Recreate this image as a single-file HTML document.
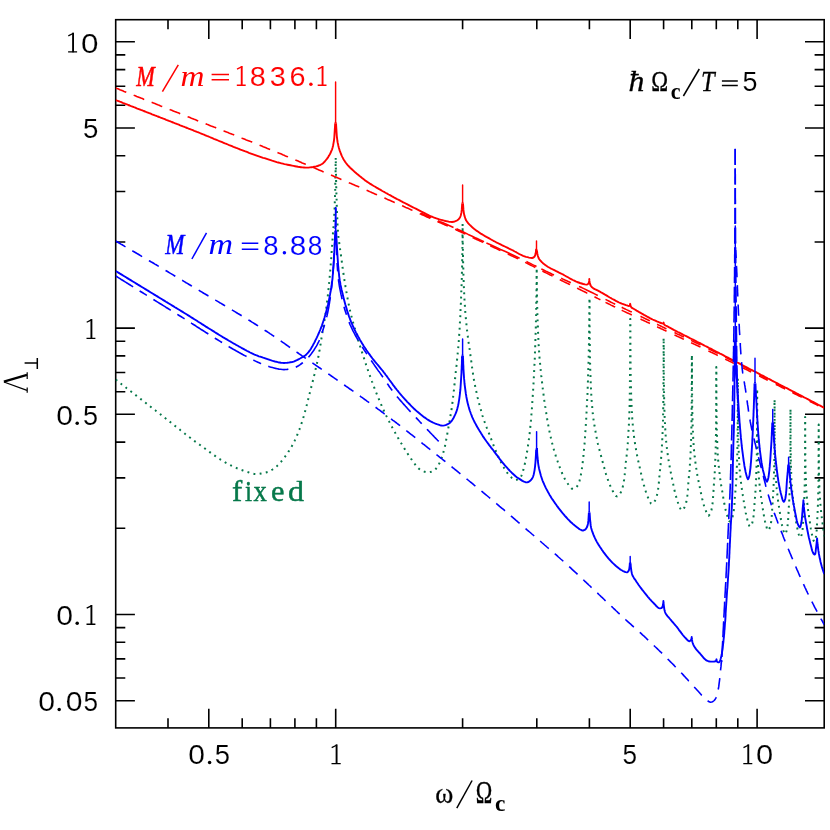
<!DOCTYPE html>
<html><head><meta charset="utf-8"><title>plot</title>
<style>html,body{margin:0;padding:0;background:#fff;}body{width:830px;height:830px;position:relative;overflow:hidden;font-family:"Liberation Serif",serif;}</style></head>
<body>
<svg width="830" height="830" viewBox="0 0 830 830" style="position:absolute;left:0;top:0;will-change:transform">
<defs><clipPath id="cp"><rect x="115.7" y="19.7" width="708.5" height="708.1999999999999"/></clipPath></defs>
<rect width="830" height="830" fill="#fff"/>
<g stroke="#000" stroke-width="1.6" fill="none" stroke-linecap="butt">
<rect x="115.7" y="19.7" width="708.5" height="708.2"/>
<path d="M168.0 727.9 v-9.6 M168.0 19.7 v9.6 M208.8 727.9 v-19.2 M208.8 19.7 v19.2 M242.2 727.9 v-9.6 M242.2 19.7 v9.6 M270.4 727.9 v-9.6 M270.4 19.7 v9.6 M294.9 727.9 v-9.6 M294.9 19.7 v9.6 M316.4 727.9 v-9.6 M316.4 19.7 v9.6 M335.7 727.9 v-19.2 M335.7 19.7 v19.2 M462.6 727.9 v-9.6 M462.6 19.7 v9.6 M536.8 727.9 v-9.6 M536.8 19.7 v9.6 M589.4 727.9 v-9.6 M589.4 19.7 v9.6 M630.2 727.9 v-19.2 M630.2 19.7 v19.2 M663.6 727.9 v-9.6 M663.6 19.7 v9.6 M691.8 727.9 v-9.6 M691.8 19.7 v9.6 M716.3 727.9 v-9.6 M716.3 19.7 v9.6 M737.8 727.9 v-9.6 M737.8 19.7 v9.6 M757.1 727.9 v-19.2 M757.1 19.7 v19.2 M115.7 700.7 h19.2 M824.2 700.7 h-19.2 M115.7 678.0 h9.6 M824.2 678.0 h-9.6 M115.7 658.9 h9.6 M824.2 658.9 h-9.6 M115.7 642.3 h9.6 M824.2 642.3 h-9.6 M115.7 627.6 h9.6 M824.2 627.6 h-9.6 M115.7 614.5 h19.2 M824.2 614.5 h-19.2 M115.7 528.3 h9.6 M824.2 528.3 h-9.6 M115.7 477.9 h9.6 M824.2 477.9 h-9.6 M115.7 442.1 h9.6 M824.2 442.1 h-9.6 M115.7 414.3 h19.2 M824.2 414.3 h-19.2 M115.7 391.7 h9.6 M824.2 391.7 h-9.6 M115.7 372.5 h9.6 M824.2 372.5 h-9.6 M115.7 355.9 h9.6 M824.2 355.9 h-9.6 M115.7 341.3 h9.6 M824.2 341.3 h-9.6 M115.7 328.1 h19.2 M824.2 328.1 h-19.2 M115.7 242.0 h9.6 M824.2 242.0 h-9.6 M115.7 191.5 h9.6 M824.2 191.5 h-9.6 M115.7 155.8 h9.6 M824.2 155.8 h-9.6 M115.7 128.0 h19.2 M824.2 128.0 h-19.2 M115.7 105.3 h9.6 M824.2 105.3 h-9.6 M115.7 86.2 h9.6 M824.2 86.2 h-9.6 M115.7 69.6 h9.6 M824.2 69.6 h-9.6 M115.7 54.9 h9.6 M824.2 54.9 h-9.6 M115.7 41.8 h19.2 M824.2 41.8 h-19.2 "/>
</g>
<g clip-path="url(#cp)" fill="none" stroke-linejoin="round">
<path d="M115.7 379.6 L116.9 380.5 L118.1 381.5 L119.3 382.4 L120.5 383.3 L121.7 384.3 L122.9 385.2 L124.1 386.1 L125.3 387.0 L126.5 388.0 L127.7 388.9 L128.9 389.8 L130.1 390.8 L131.3 391.7 L132.5 392.6 L133.7 393.6 L134.9 394.5 L136.0 395.4 L137.2 396.3 L138.4 397.3 L139.6 398.2 L140.8 399.1 L142.0 400.1 L143.2 401.0 L144.4 401.9 L145.6 402.8 L146.8 403.8 L148.0 404.7 L149.2 405.6 L150.4 406.6 L151.6 407.5 L152.8 408.4 L154.0 409.4 L155.2 410.3 L156.4 411.2 L157.6 412.1 L158.8 413.1 L160.0 414.0 L161.2 414.9 L162.4 415.9 L163.6 416.8 L164.8 417.8 L166.0 418.7 L167.2 419.7 L168.4 420.6 L169.6 421.6 L170.8 422.5 L172.0 423.5 L173.3 424.5 L174.5 425.4 L175.7 426.4 L176.9 427.3 L178.1 428.3 L179.3 429.2 L180.5 430.2 L181.7 431.1 L182.9 432.1 L184.1 433.0 L185.3 434.0 L186.5 434.9 L187.7 435.8 L188.9 436.8 L190.2 437.7 L191.4 438.6 L192.6 439.6 L193.8 440.5 L195.0 441.4 L196.3 442.3 L197.5 443.2 L198.8 444.1 L200.0 445.0 L201.2 445.9 L202.4 446.8 L203.7 447.6 L204.9 448.5 L206.1 449.4 L207.3 450.3 L208.5 451.2 L209.8 452.1 L211.0 453.0 L212.2 453.9 L213.4 454.8 L214.7 455.6 L215.9 456.5 L217.2 457.4 L218.4 458.2 L219.7 459.0 L220.9 459.8 L222.2 460.6 L223.5 461.4 L224.8 462.2 L226.1 462.9 L227.4 463.6 L228.7 464.3 L230.0 465.0 L231.4 465.7 L232.8 466.4 L234.2 467.0 L235.7 467.6 L237.1 468.3 L238.6 468.9 L240.1 469.4 L241.5 470.0 L243.0 470.5 L244.5 471.0 L246.0 471.5 L247.6 472.0 L249.3 472.6 L251.0 473.1 L252.6 473.6 L254.3 473.9 L256.0 474.0 L257.7 473.9 L259.4 473.8 L261.1 473.5 L262.7 473.2 L264.4 472.9 L266.0 472.5 L267.7 472.0 L269.3 471.3 L271.0 470.4 L272.5 469.5 L274.0 468.5 L275.2 467.6 L276.5 466.6 L277.6 465.4 L278.8 464.3 L279.9 463.1 L281.0 461.8 L282.0 460.5 L283.0 459.3 L284.0 458.0 L284.9 456.8 L285.9 455.5 L286.8 454.2 L287.7 452.9 L288.5 451.6 L289.4 450.3 L290.2 448.9 L291.0 447.5 L291.8 446.2 L292.6 444.8 L293.3 443.4 L294.0 442.0 L294.7 440.6 L295.3 439.2 L296.0 437.9 L296.6 436.4 L297.2 435.0 L297.8 433.6 L298.3 432.2 L298.9 430.7 L299.5 429.3 L300.0 427.8 L300.5 426.4 L301.0 424.9 L301.5 423.5 L302.0 422.0 L302.5 420.6 L302.9 419.1 L303.3 417.7 L303.8 416.2 L304.2 414.7 L304.6 413.3 L305.0 411.8 L305.4 410.3 L305.7 408.8 L306.1 407.4 L306.5 405.9 L306.9 404.4 L307.2 402.9 L307.6 401.5 L308.0 400.0 L308.4 398.5 L308.8 397.0 L309.2 395.5 L309.5 394.0 L309.9 392.5 L310.3 391.0 L310.7 389.5 L311.1 388.0 L311.4 386.5 L311.8 385.0 L312.2 383.5 L312.6 382.0 L312.9 380.5 L313.3 379.0 L313.6 377.5 L314.0 376.0 L314.4 374.5 L314.7 372.9 L315.1 371.4 L315.5 369.9 L315.8 368.3 L316.2 366.8 L316.5 365.3 L316.9 363.7 L317.2 362.2 L317.6 360.6 L317.9 359.1 L318.2 357.5 L318.5 356.0 L318.8 354.5 L319.1 353.0 L319.3 351.5 L319.6 350.0 L319.8 348.5 L320.1 347.0 L320.3 345.5 L320.6 344.0 L320.8 342.5 L321.0 341.0 L321.3 339.5 L321.5 338.0 L321.8 336.5 L322.0 335.0 L322.3 333.5 L322.5 331.9 L322.8 330.4 L323.1 328.8 L323.3 327.3 L323.6 325.7 L323.9 324.2 L324.1 322.6 L324.4 321.1 L324.6 319.5 L324.9 318.0 L325.1 316.4 L325.4 314.9 L325.6 313.4 L325.8 311.8 L326.0 310.3 L326.2 308.8 L326.4 307.3 L326.6 305.8 L326.8 304.3 L327.0 302.7 L327.1 301.2 L327.3 299.7 L327.5 298.2 L327.7 296.7 L327.9 295.2 L328.0 293.7 L328.2 292.2 L328.4 290.6 L328.5 289.1 L328.7 287.6 L328.8 286.1 L329.0 284.6 L329.1 283.1 L329.3 281.5 L329.4 280.0 L329.6 278.5 L329.7 277.0 L329.8 275.5 L330.0 273.9 L330.1 272.4 L330.2 270.9 L330.4 269.3 L330.5 267.8 L330.6 266.3 L330.7 264.7 L330.8 263.2 L331.0 261.7 L331.1 260.1 L331.2 258.6 L331.3 257.0 L331.4 255.5 L331.5 254.0 L331.6 252.4 L331.7 250.9 L331.8 249.4 L332.0 247.8 L332.1 246.3 L332.2 244.7 L332.3 243.2 L332.4 241.7 L332.5 240.1 L332.6 238.6 L332.7 237.1 L332.8 235.6 L332.9 234.1 L333.0 232.6 L333.2 231.1 L333.3 229.6 L333.4 228.1 L333.5 226.6 L333.6 225.1 L333.7 223.6 L333.8 222.0 L333.9 220.5 L334.0 219.0 L334.1 217.5 L334.2 216.0 L334.3 214.5 L334.4 213.0 L334.4 211.5 L334.5 210.0 L334.6 208.4 L334.6 206.9 L334.7 205.3 L334.8 203.8 L334.8 202.2 L334.9 200.6 L334.9 199.1 L335.0 197.5 L335.0 195.9 L335.1 194.4 L335.1 192.8 L335.2 191.3 L335.2 189.7 L335.2 188.1 L335.3 186.6 L335.3 185.0 L335.3 183.5 L335.4 181.9 L335.4 180.4 L335.4 178.9 L335.4 177.4 L335.5 175.8 L335.5 174.3 L335.5 172.8 L335.6 171.3 L335.6 169.7 L335.6 168.2 L335.6 166.7 L335.6 165.1 L335.7 163.6 L335.7 162.1 L335.7 160.6 L335.7 159.0 L335.7 157.5 L335.7 159.0 L335.7 160.6 L335.8 162.1 L335.8 163.6 L335.8 165.1 L335.8 166.7 L335.9 168.2 L335.9 169.7 L335.9 171.3 L335.9 172.8 L336.0 174.3 L336.0 175.8 L336.0 177.4 L336.1 178.9 L336.1 180.4 L336.1 181.9 L336.2 183.5 L336.2 185.0 L336.2 186.5 L336.3 188.0 L336.3 189.6 L336.3 191.1 L336.4 192.6 L336.4 194.1 L336.5 195.6 L336.5 197.1 L336.6 198.7 L336.6 200.2 L336.6 201.7 L336.7 203.2 L336.7 204.7 L336.8 206.3 L336.8 207.8 L336.9 209.3 L336.9 210.8 L337.0 212.3 L337.1 213.9 L337.1 215.4 L337.2 216.9 L337.3 218.4 L337.3 219.9 L337.4 221.4 L337.5 222.9 L337.5 224.5 L337.6 226.0 L337.7 227.5 L337.8 229.0 L337.9 230.5 L338.0 232.0 L338.1 233.6 L338.3 235.1 L338.4 236.6 L338.6 238.1 L338.8 239.6 L339.0 241.1 L339.2 242.7 L339.4 244.2 L339.6 245.7 L339.8 247.2 L340.0 248.7 L340.2 250.2 L340.5 251.7 L340.7 253.3 L340.9 254.8 L341.1 256.3 L341.3 257.8 L341.5 259.3 L341.7 260.8 L341.9 262.4 L342.1 263.9 L342.3 265.4 L342.5 266.9 L342.7 268.5 L343.0 270.0 L343.2 271.5 L343.4 273.0 L343.6 274.6 L343.8 276.1 L344.1 277.6 L344.3 279.1 L344.5 280.6 L344.8 282.1 L345.0 283.7 L345.3 285.2 L345.5 286.7 L345.8 288.3 L346.0 289.8 L346.3 291.4 L346.6 292.9 L346.8 294.5 L347.1 296.0 L347.4 297.6 L347.7 299.1 L348.0 300.7 L348.3 302.2 L348.6 303.7 L348.9 305.3 L349.2 306.8 L349.6 308.4 L349.9 309.9 L350.2 311.4 L350.6 312.9 L351.0 314.4 L351.3 315.8 L351.7 317.3 L352.1 318.8 L352.5 320.3 L352.9 321.8 L353.3 323.2 L353.7 324.7 L354.1 326.2 L354.6 327.7 L355.0 329.1 L355.4 330.6 L355.8 332.1 L356.3 333.5 L356.7 335.0 L357.1 336.4 L357.5 337.9 L358.0 339.3 L358.4 340.8 L358.8 342.2 L359.3 343.6 L359.7 345.1 L360.2 346.5 L360.6 347.9 L361.1 349.4 L361.5 350.8 L362.0 352.2 L362.5 353.6 L362.9 355.1 L363.4 356.5 L363.9 358.0 L364.4 359.5 L364.9 360.9 L365.3 362.4 L365.8 363.9 L366.3 365.4 L366.8 366.8 L367.3 368.3 L367.8 369.8 L368.3 371.3 L368.8 372.7 L369.4 374.2 L369.9 375.7 L370.4 377.1 L370.9 378.6 L371.5 380.0 L372.0 381.5 L372.6 383.0 L373.1 384.5 L373.7 385.9 L374.2 387.4 L374.8 388.9 L375.4 390.4 L375.9 391.9 L376.5 393.3 L377.1 394.8 L377.7 396.3 L378.3 397.8 L378.9 399.2 L379.5 400.7 L380.1 402.1 L380.7 403.6 L381.4 405.1 L382.0 406.5 L382.6 407.9 L383.2 409.3 L383.9 410.7 L384.5 412.0 L385.2 413.4 L385.8 414.8 L386.5 416.2 L387.2 417.5 L387.8 418.9 L388.5 420.2 L389.2 421.6 L389.9 423.0 L390.6 424.3 L391.3 425.7 L392.0 427.0 L392.7 428.4 L393.5 429.7 L394.2 431.1 L395.0 432.4 L395.7 433.8 L396.5 435.1 L397.3 436.5 L398.0 437.8 L398.8 439.2 L399.6 440.5 L400.4 441.8 L401.2 443.2 L402.0 444.5 L402.8 445.8 L403.6 447.1 L404.4 448.4 L405.2 449.8 L406.0 451.1 L406.8 452.4 L407.7 453.7 L408.5 455.0 L409.4 456.2 L410.2 457.5 L411.1 458.8 L412.0 460.0 L412.9 461.3 L413.8 462.6 L414.8 464.0 L415.7 465.3 L416.7 466.5 L417.7 467.7 L418.8 468.7 L420.0 469.5 L421.4 470.3 L423.0 471.1 L424.7 471.8 L426.3 472.2 L428.0 472.4 L429.5 472.2 L431.1 471.8 L432.6 471.2 L434.0 470.5 L435.2 469.7 L436.2 468.5 L437.2 467.3 L438.0 466.0 L438.7 464.7 L439.4 463.3 L440.1 462.0 L440.7 460.5 L441.2 459.0 L441.8 457.6 L442.3 456.0 L442.7 454.5 L443.2 453.0 L443.6 451.5 L444.0 450.0 L444.4 448.5 L444.8 447.0 L445.1 445.5 L445.4 443.9 L445.7 442.4 L446.0 440.8 L446.3 439.3 L446.6 437.7 L446.9 436.2 L447.2 434.6 L447.4 433.1 L447.7 431.5 L448.0 430.0 L448.3 428.5 L448.5 427.0 L448.8 425.5 L449.1 424.0 L449.4 422.5 L449.6 421.0 L449.9 419.5 L450.1 418.0 L450.4 416.5 L450.6 415.0 L450.9 413.5 L451.1 412.0 L451.4 410.5 L451.6 409.0 L451.8 407.5 L452.0 406.0 L452.2 404.5 L452.4 403.0 L452.6 401.5 L452.8 400.0 L453.0 398.5 L453.1 397.0 L453.3 395.5 L453.5 394.0 L453.7 392.5 L453.8 391.0 L454.0 389.5 L454.1 388.0 L454.3 386.5 L454.5 385.0 L454.6 383.5 L454.8 382.0 L454.9 380.5 L455.1 379.0 L455.2 377.5 L455.4 376.0 L455.5 374.5 L455.7 373.0 L455.8 371.5 L456.0 370.0 L456.2 368.5 L456.3 367.0 L456.5 365.4 L456.6 363.9 L456.8 362.4 L456.9 360.9 L457.1 359.3 L457.3 357.8 L457.4 356.3 L457.6 354.8 L457.7 353.2 L457.9 351.7 L458.0 350.2 L458.1 348.7 L458.3 347.2 L458.4 345.6 L458.5 344.1 L458.7 342.6 L458.8 341.1 L458.9 339.5 L459.0 338.0 L459.1 336.5 L459.2 335.0 L459.3 333.4 L459.4 331.9 L459.5 330.4 L459.6 328.9 L459.7 327.4 L459.8 325.8 L459.8 324.3 L459.9 322.8 L460.0 321.3 L460.1 319.8 L460.2 318.2 L460.3 316.7 L460.3 315.2 L460.4 313.7 L460.5 312.2 L460.5 310.6 L460.6 309.1 L460.7 307.6 L460.7 306.1 L460.8 304.6 L460.9 303.0 L460.9 301.5 L461.0 300.0 L461.1 298.5 L461.1 297.0 L461.2 295.4 L461.2 293.9 L461.3 292.4 L461.3 290.9 L461.4 289.4 L461.5 287.8 L461.5 286.3 L461.6 284.8 L461.6 283.3 L461.7 281.7 L461.7 280.2 L461.8 278.7 L461.8 277.2 L461.9 275.7 L461.9 274.1 L461.9 272.6 L462.0 271.1 L462.0 269.6 L462.0 268.0 L462.1 266.5 L462.1 265.0 L462.1 263.5 L462.2 262.0 L462.2 260.4 L462.2 258.9 L462.2 257.4 L462.3 255.9 L462.3 254.4 L462.3 252.9 L462.3 251.3 L462.4 249.8 L462.4 248.3 L462.4 246.8 L462.4 245.3 L462.4 243.7 L462.5 242.2 L462.5 240.7 L462.5 239.2 L462.5 237.7 L462.5 236.2 L462.5 234.6 L462.6 233.1 L462.6 231.6 L462.6 230.1 L462.6 228.6 L462.6 227.0 L462.6 225.5 L462.6 224.0 L462.6 225.5 L462.6 227.0 L462.6 228.6 L462.6 230.1 L462.6 231.6 L462.7 233.1 L462.7 234.6 L462.7 236.2 L462.7 237.7 L462.7 239.2 L462.7 240.7 L462.8 242.2 L462.8 243.7 L462.8 245.3 L462.8 246.8 L462.9 248.3 L462.9 249.8 L462.9 251.3 L463.0 252.9 L463.0 254.4 L463.0 255.9 L463.0 257.4 L463.1 258.9 L463.1 260.4 L463.1 262.0 L463.2 263.5 L463.2 265.0 L463.2 266.5 L463.3 268.0 L463.3 269.6 L463.3 271.1 L463.4 272.6 L463.4 274.1 L463.5 275.7 L463.5 277.2 L463.6 278.7 L463.6 280.2 L463.7 281.7 L463.7 283.3 L463.8 284.8 L463.9 286.3 L463.9 287.8 L464.0 289.4 L464.1 290.9 L464.1 292.4 L464.2 293.9 L464.3 295.4 L464.3 297.0 L464.4 298.5 L464.5 300.0 L464.6 301.5 L464.7 303.0 L464.8 304.5 L464.9 306.0 L465.0 307.5 L465.1 309.0 L465.2 310.5 L465.3 312.0 L465.4 313.5 L465.6 315.0 L465.7 316.5 L465.8 318.0 L466.0 319.5 L466.1 321.0 L466.2 322.5 L466.4 324.0 L466.5 325.5 L466.7 327.0 L466.8 328.5 L467.0 330.0 L467.2 331.6 L467.4 333.1 L467.5 334.7 L467.8 336.3 L468.0 337.9 L468.2 339.4 L468.4 341.0 L468.6 342.6 L468.9 344.1 L469.1 345.7 L469.3 347.3 L469.6 348.9 L469.8 350.4 L470.0 352.0 L470.2 353.6 L470.4 355.1 L470.6 356.7 L470.8 358.2 L471.0 359.8 L471.3 361.4 L471.5 362.9 L471.7 364.5 L471.9 366.0 L472.1 367.6 L472.3 369.1 L472.5 370.7 L472.8 372.3 L473.0 373.8 L473.2 375.4 L473.5 376.9 L473.7 378.5 L474.0 380.0 L474.3 381.5 L474.5 383.0 L474.8 384.5 L475.1 386.0 L475.4 387.5 L475.7 388.9 L476.0 390.4 L476.4 391.9 L476.7 393.4 L477.0 394.9 L477.4 396.4 L477.7 397.9 L478.1 399.3 L478.4 400.8 L478.8 402.3 L479.2 403.8 L479.6 405.2 L480.0 406.7 L480.4 408.2 L480.8 409.6 L481.2 411.1 L481.6 412.5 L482.0 414.0 L482.4 415.5 L482.9 417.0 L483.4 418.5 L483.9 419.9 L484.4 421.4 L485.0 422.9 L485.5 424.3 L486.0 425.8 L486.6 427.3 L487.2 428.7 L487.7 430.2 L488.3 431.6 L488.9 433.1 L489.4 434.5 L490.0 436.0 L490.5 437.4 L491.1 438.9 L491.6 440.3 L492.2 441.8 L492.7 443.2 L493.3 444.6 L493.8 446.1 L494.4 447.5 L495.0 448.9 L495.6 450.4 L496.1 451.8 L496.7 453.2 L497.4 454.6 L498.0 456.0 L498.6 457.4 L499.3 458.8 L500.0 460.2 L500.7 461.6 L501.4 463.0 L502.1 464.4 L502.8 465.8 L503.6 467.1 L504.3 468.4 L505.2 469.7 L506.0 471.0 L506.9 472.3 L507.8 473.5 L508.8 474.8 L509.8 476.0 L510.9 477.1 L512.0 478.0 L513.9 479.3 L516.0 480.0 L518.2 479.3 L520.0 478.0 L520.8 476.9 L521.5 475.6 L522.0 474.1 L522.5 472.5 L523.0 471.0 L523.5 469.4 L523.9 467.8 L524.3 466.2 L524.7 464.6 L525.0 462.9 L525.4 461.3 L525.7 459.6 L526.0 458.0 L526.3 456.5 L526.5 454.9 L526.8 453.4 L527.1 451.8 L527.3 450.3 L527.6 448.7 L527.8 447.2 L528.0 445.6 L528.3 444.0 L528.5 442.5 L528.7 440.9 L528.9 439.4 L529.1 437.8 L529.3 436.2 L529.5 434.7 L529.7 433.1 L529.8 431.6 L530.0 430.0 L530.2 428.5 L530.3 427.0 L530.5 425.5 L530.6 423.9 L530.7 422.4 L530.9 420.9 L531.0 419.4 L531.1 417.9 L531.3 416.3 L531.4 414.8 L531.5 413.3 L531.6 411.8 L531.8 410.3 L531.9 408.7 L532.0 407.2 L532.1 405.7 L532.2 404.2 L532.3 402.7 L532.4 401.1 L532.5 399.6 L532.6 398.1 L532.7 396.6 L532.8 395.0 L532.9 393.5 L533.0 392.0 L533.1 390.5 L533.2 388.9 L533.3 387.4 L533.4 385.9 L533.5 384.3 L533.5 382.8 L533.6 381.2 L533.7 379.7 L533.8 378.2 L533.9 376.6 L534.0 375.1 L534.0 373.5 L534.1 372.0 L534.2 370.5 L534.3 368.9 L534.4 367.4 L534.4 365.9 L534.5 364.3 L534.6 362.8 L534.6 361.2 L534.7 359.7 L534.8 358.2 L534.8 356.6 L534.9 355.1 L534.9 353.5 L535.0 352.0 L535.1 350.5 L535.1 349.0 L535.2 347.5 L535.2 346.0 L535.3 344.5 L535.3 343.0 L535.4 341.5 L535.4 340.0 L535.5 338.5 L535.5 337.0 L535.6 335.5 L535.6 334.0 L535.7 332.5 L535.7 331.0 L535.7 329.5 L535.8 328.0 L535.8 326.5 L535.9 325.0 L535.9 323.5 L535.9 322.0 L536.0 320.5 L536.0 319.0 L536.1 317.5 L536.1 316.0 L536.1 314.5 L536.1 313.0 L536.2 311.5 L536.2 310.0 L536.2 308.5 L536.3 307.0 L536.3 305.5 L536.3 304.0 L536.3 302.5 L536.3 301.0 L536.4 299.5 L536.4 298.0 L536.4 296.5 L536.4 295.0 L536.5 293.5 L536.5 292.0 L536.5 290.5 L536.5 289.0 L536.5 287.5 L536.6 286.0 L536.6 284.5 L536.6 283.0 L536.6 281.5 L536.6 280.0 L536.6 278.5 L536.6 277.0 L536.7 275.5 L536.7 274.0 L536.7 272.5 L536.7 271.0 L536.7 269.5 L536.7 268.0 L536.7 269.5 L536.7 271.0 L536.7 272.5 L536.7 274.0 L536.7 275.5 L536.7 277.0 L536.8 278.5 L536.8 280.0 L536.8 281.5 L536.8 283.0 L536.8 284.5 L536.8 286.0 L536.9 287.5 L536.9 289.0 L536.9 290.5 L536.9 292.0 L537.0 293.5 L537.0 295.0 L537.0 296.5 L537.0 298.0 L537.1 299.5 L537.1 301.0 L537.1 302.5 L537.2 304.0 L537.2 305.5 L537.2 307.0 L537.3 308.5 L537.3 310.0 L537.3 311.5 L537.4 313.1 L537.4 314.6 L537.5 316.2 L537.5 317.7 L537.6 319.2 L537.6 320.8 L537.7 322.3 L537.7 323.9 L537.8 325.4 L537.8 326.9 L537.9 328.5 L538.0 330.0 L538.0 331.5 L538.1 333.1 L538.2 334.6 L538.2 336.2 L538.3 337.7 L538.4 339.2 L538.5 340.8 L538.6 342.3 L538.6 343.9 L538.7 345.4 L538.8 346.9 L538.9 348.5 L539.0 350.0 L539.1 351.5 L539.2 353.1 L539.3 354.6 L539.4 356.1 L539.5 357.6 L539.7 359.2 L539.8 360.7 L539.9 362.2 L540.1 363.7 L540.2 365.3 L540.4 366.8 L540.5 368.3 L540.7 369.8 L540.8 371.3 L541.0 372.9 L541.2 374.4 L541.3 375.9 L541.5 377.4 L541.7 379.0 L541.8 380.5 L542.0 382.0 L542.2 383.5 L542.3 385.1 L542.5 386.6 L542.7 388.1 L542.9 389.7 L543.1 391.2 L543.3 392.7 L543.5 394.3 L543.7 395.8 L543.9 397.3 L544.1 398.9 L544.3 400.4 L544.6 401.9 L544.8 403.5 L545.0 405.0 L545.2 406.5 L545.5 408.1 L545.7 409.6 L545.9 411.1 L546.2 412.7 L546.4 414.2 L546.6 415.7 L546.9 417.3 L547.1 418.8 L547.4 420.3 L547.7 421.9 L547.9 423.4 L548.2 424.9 L548.5 426.4 L548.8 427.9 L549.1 429.5 L549.4 431.0 L549.7 432.5 L550.0 434.0 L550.3 435.5 L550.7 437.0 L551.0 438.5 L551.4 440.0 L551.7 441.5 L552.1 443.0 L552.5 444.5 L552.9 446.0 L553.3 447.5 L553.7 449.0 L554.1 450.5 L554.6 452.0 L555.0 453.5 L555.5 454.9 L555.9 456.4 L556.4 457.9 L556.9 459.3 L557.4 460.8 L557.9 462.3 L558.4 463.7 L558.9 465.1 L559.5 466.6 L560.0 468.0 L560.6 469.5 L561.2 471.0 L561.8 472.5 L562.5 474.1 L563.2 475.6 L563.9 477.1 L564.6 478.5 L565.4 480.0 L566.2 481.4 L567.1 482.7 L568.0 484.0 L569.1 485.6 L570.3 487.2 L571.6 488.5 L573.0 489.0 L574.4 488.6 L575.9 487.6 L577.0 486.5 L577.8 485.3 L578.5 483.8 L579.1 482.2 L579.6 480.6 L580.0 479.0 L580.4 477.5 L580.7 475.9 L581.0 474.3 L581.3 472.8 L581.6 471.2 L581.8 469.6 L582.0 468.0 L582.2 466.4 L582.4 464.8 L582.6 463.2 L582.8 461.6 L583.0 460.0 L583.2 458.5 L583.3 457.0 L583.5 455.5 L583.6 453.9 L583.8 452.4 L583.9 450.9 L584.0 449.4 L584.2 447.9 L584.3 446.4 L584.4 444.8 L584.6 443.3 L584.7 441.8 L584.8 440.3 L584.9 438.7 L585.0 437.2 L585.1 435.7 L585.2 434.2 L585.3 432.7 L585.4 431.1 L585.5 429.6 L585.6 428.1 L585.7 426.6 L585.8 425.0 L585.9 423.5 L586.0 422.0 L586.1 420.5 L586.2 419.0 L586.3 417.5 L586.3 416.0 L586.4 414.5 L586.5 413.0 L586.6 411.5 L586.7 410.0 L586.8 408.5 L586.8 407.0 L586.9 405.5 L587.0 404.0 L587.1 402.5 L587.1 401.0 L587.2 399.5 L587.3 398.0 L587.4 396.5 L587.4 395.0 L587.5 393.5 L587.5 392.0 L587.6 390.5 L587.7 389.0 L587.7 387.5 L587.8 386.0 L587.8 384.5 L587.9 383.0 L587.9 381.5 L588.0 380.0 L588.1 378.5 L588.1 376.9 L588.1 375.4 L588.2 373.8 L588.2 372.3 L588.3 370.8 L588.3 369.2 L588.4 367.7 L588.4 366.2 L588.5 364.6 L588.5 363.1 L588.6 361.5 L588.6 360.0 L588.6 358.5 L588.7 356.9 L588.7 355.4 L588.7 353.8 L588.8 352.3 L588.8 350.8 L588.8 349.2 L588.9 347.7 L588.9 346.2 L588.9 344.6 L589.0 343.1 L589.0 341.5 L589.0 340.0 L589.0 338.5 L589.0 337.0 L589.1 335.5 L589.1 334.0 L589.1 332.5 L589.1 331.0 L589.1 329.5 L589.2 328.0 L589.2 326.5 L589.2 325.0 L589.2 323.5 L589.2 322.0 L589.2 320.5 L589.3 319.0 L589.3 317.5 L589.3 316.0 L589.3 314.5 L589.3 313.0 L589.3 311.5 L589.3 310.0 L589.4 308.5 L589.4 307.0 L589.4 305.5 L589.4 304.0 L589.4 302.5 L589.4 301.0 L589.4 299.5 L589.4 298.0 L589.5 298.0 L589.5 298.0 L589.5 298.1 L589.5 298.5 L589.6 299.1 L589.6 300.0 L589.6 301.0 L589.6 302.2 L589.6 303.6 L589.6 305.1 L589.6 306.8 L589.6 308.6 L589.6 310.4 L589.6 312.4 L589.6 314.4 L589.6 316.4 L589.6 318.5 L589.6 320.5 L589.6 322.6 L589.6 324.6 L589.6 326.6 L589.7 328.5 L589.7 330.4 L589.7 332.1 L589.7 333.7 L589.7 335.2 L589.7 336.7 L589.7 338.3 L589.7 339.8 L589.8 341.3 L589.8 342.8 L589.8 344.3 L589.8 345.9 L589.8 347.4 L589.9 348.9 L589.9 350.4 L589.9 351.9 L589.9 353.5 L590.0 355.0 L590.0 356.5 L590.0 358.0 L590.0 359.5 L590.1 361.0 L590.1 362.6 L590.1 364.1 L590.2 365.6 L590.2 367.1 L590.2 368.6 L590.3 370.2 L590.3 371.7 L590.4 373.3 L590.4 374.8 L590.5 376.3 L590.5 377.9 L590.6 379.4 L590.6 381.0 L590.7 382.5 L590.8 384.0 L590.8 385.6 L590.9 387.1 L591.0 388.7 L591.1 390.2 L591.2 391.8 L591.2 393.3 L591.3 394.8 L591.4 396.4 L591.5 397.9 L591.6 399.4 L591.7 401.0 L591.8 402.5 L591.9 404.1 L592.1 405.6 L592.2 407.1 L592.3 408.6 L592.4 410.2 L592.6 411.7 L592.7 413.2 L592.9 414.7 L593.1 416.2 L593.3 417.7 L593.5 419.3 L593.7 420.8 L594.0 422.3 L594.2 423.8 L594.4 425.3 L594.7 426.8 L594.9 428.3 L595.2 429.9 L595.5 431.4 L595.7 432.9 L596.0 434.4 L596.3 435.9 L596.6 437.4 L596.9 438.9 L597.2 440.4 L597.5 441.9 L597.8 443.5 L598.2 445.0 L598.6 446.5 L599.0 448.1 L599.4 449.6 L599.8 451.1 L600.2 452.6 L600.6 454.1 L601.0 455.7 L601.4 457.2 L601.8 458.7 L602.2 460.2 L602.6 461.8 L603.0 463.3 L603.4 464.9 L603.8 466.4 L604.3 467.9 L604.7 469.5 L605.1 471.0 L605.6 472.5 L606.0 474.1 L606.5 475.6 L607.0 477.0 L607.5 478.5 L608.0 480.0 L608.5 481.4 L609.0 482.9 L609.6 484.3 L610.2 485.7 L610.8 487.1 L611.5 488.5 L612.3 490.0 L613.1 491.8 L614.0 493.5 L615.0 495.0 L616.0 496.0 L617.0 496.4 L618.4 495.6 L619.9 493.8 L621.0 492.0 L621.6 490.6 L622.1 489.2 L622.5 487.7 L622.9 486.2 L623.3 484.6 L623.6 483.0 L623.8 481.5 L624.1 479.9 L624.3 478.4 L624.5 476.8 L624.7 475.2 L624.8 473.6 L625.0 472.0 L625.1 470.5 L625.3 468.9 L625.4 467.3 L625.5 465.7 L625.7 464.1 L625.8 462.5 L626.0 460.9 L626.2 459.3 L626.4 457.6 L626.6 456.0 L626.8 454.3 L627.0 452.7 L627.1 451.0 L627.3 449.4 L627.4 447.9 L627.5 446.3 L627.6 444.8 L627.8 443.3 L627.9 441.8 L628.0 440.2 L628.1 438.7 L628.2 437.2 L628.3 435.7 L628.4 434.1 L628.5 432.6 L628.5 431.1 L628.6 429.5 L628.7 428.0 L628.8 426.5 L628.9 424.9 L628.9 423.4 L629.0 421.9 L629.1 420.4 L629.1 418.8 L629.2 417.3 L629.3 415.8 L629.3 414.3 L629.4 412.7 L629.4 411.2 L629.5 409.7 L629.5 408.2 L629.6 406.6 L629.6 405.0 L629.6 403.4 L629.7 401.8 L629.7 400.2 L629.7 398.6 L629.8 397.0 L629.8 395.3 L629.8 393.7 L629.8 392.1 L629.8 390.5 L629.9 389.0 L629.9 387.4 L629.9 385.9 L629.9 384.4 L629.9 382.8 L629.9 381.3 L630.0 379.8 L630.0 378.3 L630.0 376.7 L630.0 375.2 L630.0 373.7 L630.0 372.1 L630.0 370.6 L630.0 369.1 L630.1 367.6 L630.1 366.0 L630.1 364.5 L630.1 363.0 L630.1 361.4 L630.1 359.9 L630.1 358.4 L630.1 356.9 L630.1 355.4 L630.1 353.8 L630.1 352.3 L630.1 350.8 L630.2 349.3 L630.2 347.8 L630.2 346.3 L630.2 344.8 L630.2 343.2 L630.2 341.7 L630.2 340.2 L630.2 338.7 L630.2 337.2 L630.2 335.7 L630.2 334.1 L630.2 332.6 L630.2 331.1 L630.2 329.6 L630.2 328.1 L630.2 326.6 L630.2 325.1 L630.2 323.5 L630.2 322.0 L630.2 320.5 L630.2 319.0 L630.3 319.0 L630.3 319.0 L630.3 319.1 L630.4 319.5 L630.4 320.2 L630.4 321.0 L630.4 322.0 L630.4 323.3 L630.4 324.7 L630.4 326.2 L630.4 327.9 L630.4 329.6 L630.4 331.5 L630.4 333.4 L630.4 335.4 L630.4 337.4 L630.4 339.4 L630.4 341.4 L630.4 343.4 L630.4 345.3 L630.4 347.2 L630.4 349.0 L630.5 350.7 L630.5 352.3 L630.5 353.9 L630.5 355.4 L630.5 357.0 L630.5 358.5 L630.5 360.1 L630.5 361.6 L630.6 363.2 L630.6 364.7 L630.6 366.3 L630.6 367.8 L630.6 369.4 L630.7 370.9 L630.7 372.5 L630.7 374.0 L630.7 375.6 L630.8 377.1 L630.8 378.7 L630.8 380.2 L630.8 381.8 L630.9 383.3 L630.9 384.9 L630.9 386.4 L631.0 388.0 L631.0 389.5 L631.0 391.1 L631.1 392.7 L631.1 394.2 L631.2 395.8 L631.2 397.4 L631.3 398.9 L631.4 400.5 L631.4 402.0 L631.5 403.6 L631.6 405.2 L631.6 406.7 L631.7 408.3 L631.8 409.8 L631.9 411.4 L632.0 413.0 L632.0 414.5 L632.1 416.1 L632.2 417.6 L632.3 419.2 L632.4 420.8 L632.5 422.3 L632.7 423.9 L632.8 425.4 L632.9 427.0 L633.1 428.6 L633.3 430.1 L633.4 431.7 L633.6 433.3 L633.8 434.8 L634.0 436.4 L634.2 437.9 L634.5 439.5 L634.7 441.0 L634.9 442.6 L635.1 444.2 L635.4 445.7 L635.6 447.3 L635.9 448.8 L636.1 450.4 L636.4 451.9 L636.7 453.4 L637.0 455.0 L637.3 456.5 L637.6 458.1 L637.9 459.6 L638.3 461.2 L638.6 462.7 L639.0 464.2 L639.3 465.8 L639.7 467.3 L640.0 468.9 L640.4 470.4 L640.7 472.0 L641.1 473.6 L641.4 475.2 L641.8 476.7 L642.2 478.3 L642.5 479.9 L642.9 481.5 L643.3 483.0 L643.7 484.6 L644.2 486.1 L644.6 487.6 L645.0 489.2 L645.5 490.7 L646.0 492.2 L646.5 493.7 L647.1 495.2 L647.6 496.6 L648.4 498.4 L649.2 500.3 L650.1 502.1 L651.0 503.5 L652.0 504.0 L653.2 503.3 L654.5 501.6 L655.5 499.9 L656.1 498.4 L656.6 496.8 L657.0 495.1 L657.4 493.4 L657.7 491.7 L658.0 490.1 L658.2 488.5 L658.4 486.9 L658.6 485.3 L658.8 483.7 L658.9 482.1 L659.1 480.5 L659.2 478.9 L659.3 477.2 L659.5 475.6 L659.6 474.0 L659.7 472.4 L659.9 470.8 L660.1 469.3 L660.2 467.7 L660.4 466.2 L660.6 464.6 L660.7 463.1 L660.9 461.6 L661.0 460.0 L661.1 458.5 L661.2 457.0 L661.3 455.5 L661.5 454.0 L661.6 452.5 L661.7 450.9 L661.7 449.4 L661.8 447.9 L661.9 446.4 L662.0 444.9 L662.1 443.4 L662.2 441.9 L662.2 440.3 L662.3 438.8 L662.4 437.3 L662.5 435.8 L662.5 434.3 L662.6 432.7 L662.7 431.1 L662.7 429.5 L662.8 427.9 L662.8 426.4 L662.9 424.8 L662.9 423.2 L663.0 421.6 L663.0 420.0 L663.0 418.5 L663.1 417.0 L663.1 415.5 L663.1 414.0 L663.2 412.5 L663.2 410.9 L663.2 409.4 L663.2 407.9 L663.2 406.4 L663.3 404.9 L663.3 403.4 L663.3 401.9 L663.3 400.4 L663.3 398.9 L663.3 397.4 L663.4 395.9 L663.4 394.4 L663.4 392.9 L663.4 391.4 L663.4 389.9 L663.4 388.4 L663.4 386.9 L663.4 385.4 L663.4 383.9 L663.5 382.4 L663.5 380.9 L663.5 379.4 L663.5 377.9 L663.5 376.4 L663.5 374.9 L663.5 373.3 L663.5 371.8 L663.5 370.2 L663.5 368.7 L663.5 367.2 L663.5 365.6 L663.5 364.1 L663.5 362.6 L663.6 361.0 L663.6 359.5 L663.6 358.0 L663.6 356.4 L663.6 354.9 L663.6 353.4 L663.6 351.8 L663.6 350.3 L663.6 348.7 L663.6 347.2 L663.6 345.7 L663.6 344.1 L663.6 342.6 L663.6 341.1 L663.6 339.5 L663.6 338.0 L663.7 338.0 L663.7 338.0 L663.7 338.2 L663.7 338.6 L663.7 339.3 L663.7 340.2 L663.7 341.4 L663.7 342.7 L663.7 344.3 L663.8 345.9 L663.8 347.7 L663.8 349.6 L663.8 351.6 L663.8 353.6 L663.8 355.7 L663.8 357.8 L663.8 359.8 L663.8 361.8 L663.8 363.8 L663.8 365.6 L663.8 367.4 L663.8 369.0 L663.8 370.5 L663.8 372.1 L663.8 373.6 L663.8 375.1 L663.9 376.6 L663.9 378.1 L663.9 379.7 L663.9 381.2 L663.9 382.7 L663.9 384.2 L664.0 385.7 L664.0 387.2 L664.0 388.8 L664.0 390.3 L664.0 391.8 L664.1 393.3 L664.1 394.8 L664.1 396.3 L664.1 397.9 L664.2 399.4 L664.2 400.9 L664.2 402.4 L664.3 403.9 L664.3 405.5 L664.3 407.0 L664.4 408.5 L664.4 410.0 L664.5 411.5 L664.5 413.1 L664.6 414.6 L664.6 416.1 L664.7 417.6 L664.8 419.2 L664.8 420.7 L664.9 422.2 L665.0 423.7 L665.0 425.2 L665.1 426.8 L665.2 428.3 L665.3 429.8 L665.4 431.3 L665.5 432.8 L665.5 434.4 L665.7 435.9 L665.8 437.4 L665.9 439.0 L666.1 440.5 L666.2 442.0 L666.4 443.6 L666.5 445.1 L666.7 446.6 L666.9 448.2 L667.1 449.7 L667.3 451.2 L667.5 452.8 L667.7 454.3 L667.9 455.8 L668.1 457.4 L668.4 458.9 L668.6 460.4 L668.8 462.0 L669.1 463.6 L669.4 465.1 L669.7 466.7 L670.0 468.3 L670.3 469.8 L670.6 471.4 L670.9 473.0 L671.2 474.5 L671.6 476.1 L671.9 477.6 L672.2 479.3 L672.5 480.9 L672.9 482.5 L673.2 484.2 L673.5 485.8 L673.9 487.4 L674.2 489.1 L674.6 490.7 L675.0 492.3 L675.4 493.9 L675.8 495.5 L676.3 497.2 L676.7 498.8 L677.2 500.4 L677.7 502.0 L678.3 503.5 L678.9 505.1 L679.6 507.0 L680.4 508.7 L681.2 509.9 L682.0 510.4 L683.0 509.7 L684.1 508.1 L684.9 506.5 L685.5 505.1 L685.9 503.6 L686.3 502.1 L686.6 500.5 L686.9 498.9 L687.1 497.3 L687.3 495.9 L687.4 494.4 L687.6 492.9 L687.7 491.4 L687.9 489.9 L688.0 488.4 L688.1 486.9 L688.2 485.3 L688.3 483.8 L688.4 482.3 L688.5 480.8 L688.7 479.3 L688.8 477.6 L689.0 476.0 L689.2 474.3 L689.3 472.6 L689.5 470.9 L689.6 469.2 L689.7 467.7 L689.8 466.2 L689.9 464.7 L690.0 463.2 L690.1 461.7 L690.2 460.2 L690.3 458.7 L690.4 457.2 L690.4 455.7 L690.5 454.2 L690.6 452.7 L690.7 451.2 L690.7 449.7 L690.8 448.1 L690.8 446.6 L690.9 445.1 L691.0 443.5 L691.0 441.8 L691.1 440.1 L691.1 438.5 L691.2 436.8 L691.2 435.1 L691.3 433.4 L691.3 431.8 L691.3 430.2 L691.4 428.6 L691.4 427.1 L691.4 425.5 L691.5 423.9 L691.5 422.3 L691.5 420.8 L691.5 419.2 L691.5 417.6 L691.5 416.1 L691.6 414.5 L691.6 412.9 L691.6 411.4 L691.6 409.8 L691.6 408.3 L691.6 406.7 L691.6 405.1 L691.6 403.6 L691.7 402.0 L691.7 400.4 L691.7 398.9 L691.7 397.3 L691.7 395.7 L691.7 394.2 L691.7 392.6 L691.7 391.1 L691.7 389.5 L691.7 387.9 L691.7 386.4 L691.7 384.8 L691.8 383.2 L691.8 381.7 L691.8 380.1 L691.8 378.5 L691.8 377.0 L691.8 375.4 L691.8 373.8 L691.8 372.2 L691.8 370.7 L691.8 369.1 L691.8 367.5 L691.8 366.0 L691.8 364.4 L691.8 362.8 L691.8 361.3 L691.8 359.7 L691.8 358.1 L691.8 356.6 L691.8 355.0 L691.9 355.0 L691.9 355.0 L691.9 355.2 L691.9 355.6 L691.9 356.3 L691.9 357.3 L691.9 358.5 L691.9 359.9 L691.9 361.4 L692.0 363.1 L692.0 364.9 L692.0 366.8 L692.0 368.8 L692.0 370.8 L692.0 372.8 L692.0 374.8 L692.0 376.8 L692.0 378.8 L692.0 380.6 L692.0 382.3 L692.0 383.9 L692.0 385.5 L692.0 387.1 L692.0 388.6 L692.0 390.2 L692.1 391.8 L692.1 393.4 L692.1 394.9 L692.1 396.5 L692.1 398.1 L692.1 399.6 L692.2 401.2 L692.2 402.8 L692.2 404.4 L692.2 405.9 L692.2 407.5 L692.3 409.1 L692.3 410.6 L692.3 412.2 L692.4 413.8 L692.4 415.3 L692.4 416.9 L692.5 418.4 L692.5 420.0 L692.6 421.6 L692.6 423.1 L692.7 424.7 L692.7 426.2 L692.8 427.8 L692.8 429.4 L692.9 430.9 L693.0 432.5 L693.0 434.0 L693.1 435.6 L693.2 437.2 L693.2 438.7 L693.3 440.3 L693.4 441.8 L693.5 443.4 L693.6 444.9 L693.7 446.4 L693.8 447.9 L693.9 449.5 L694.1 451.0 L694.2 452.5 L694.4 454.0 L694.6 455.5 L694.7 457.0 L694.9 458.5 L695.1 460.1 L695.3 461.6 L695.5 463.1 L695.7 464.6 L695.9 466.1 L696.1 467.6 L696.4 469.1 L696.6 470.7 L696.9 472.3 L697.1 473.9 L697.4 475.5 L697.8 477.1 L698.1 478.8 L698.4 480.4 L698.7 482.0 L699.1 483.6 L699.4 485.2 L699.7 486.7 L700.0 488.2 L700.3 489.7 L700.6 491.3 L700.9 492.8 L701.2 494.3 L701.5 495.8 L701.9 497.3 L702.2 498.8 L702.6 500.3 L703.0 501.9 L703.4 503.4 L703.8 504.9 L704.2 506.4 L704.7 507.8 L705.2 509.3 L706.0 511.2 L706.8 513.3 L707.7 515.0 L708.6 515.7 L709.9 514.3 L710.9 512.0 L711.4 510.3 L711.8 508.6 L712.1 506.8 L712.3 505.0 L712.6 503.2 L712.7 501.7 L712.9 500.1 L713.0 498.5 L713.1 497.0 L713.2 495.4 L713.3 493.8 L713.4 492.2 L713.5 490.7 L713.6 489.1 L713.7 487.5 L713.8 486.0 L713.9 484.3 L714.1 482.7 L714.2 481.1 L714.3 479.5 L714.4 477.9 L714.5 476.3 L714.6 474.8 L714.7 473.2 L714.8 471.7 L714.9 470.2 L714.9 468.6 L715.0 467.1 L715.1 465.5 L715.2 464.0 L715.2 462.5 L715.3 460.9 L715.3 459.4 L715.4 457.9 L715.4 456.3 L715.5 454.8 L715.5 453.2 L715.6 451.6 L715.6 450.0 L715.7 448.5 L715.7 446.9 L715.8 445.3 L715.8 443.7 L715.8 442.1 L715.9 440.5 L715.9 439.0 L715.9 437.5 L715.9 435.9 L716.0 434.4 L716.0 432.9 L716.0 431.4 L716.0 429.9 L716.0 428.4 L716.0 426.9 L716.0 425.3 L716.1 423.8 L716.1 422.2 L716.1 420.6 L716.1 419.0 L716.1 417.4 L716.1 415.8 L716.1 414.3 L716.1 412.7 L716.1 411.1 L716.1 409.5 L716.2 407.9 L716.2 406.3 L716.2 404.8 L716.2 403.2 L716.2 401.6 L716.2 400.0 L716.2 398.5 L716.2 397.0 L716.2 395.5 L716.2 394.0 L716.2 392.5 L716.2 391.0 L716.2 389.5 L716.2 388.0 L716.2 386.5 L716.2 385.0 L716.2 383.5 L716.2 382.0 L716.2 380.5 L716.2 379.0 L716.2 377.5 L716.3 376.0 L716.3 374.5 L716.3 373.0 L716.3 371.5 L716.3 370.0 L716.3 368.5 L716.3 367.0 L716.3 367.0 L716.3 367.0 L716.3 367.2 L716.3 367.6 L716.3 368.4 L716.3 369.4 L716.4 370.7 L716.4 372.2 L716.4 373.8 L716.4 375.5 L716.4 377.4 L716.4 379.4 L716.4 381.4 L716.4 383.5 L716.4 385.5 L716.4 387.6 L716.4 389.5 L716.4 391.4 L716.4 393.2 L716.4 394.8 L716.4 396.3 L716.4 397.8 L716.4 399.3 L716.4 400.9 L716.4 402.4 L716.5 403.9 L716.5 405.4 L716.5 406.9 L716.5 408.4 L716.5 409.9 L716.5 411.4 L716.5 412.9 L716.6 414.4 L716.6 416.0 L716.6 417.5 L716.6 419.0 L716.6 420.5 L716.7 422.0 L716.7 423.6 L716.7 425.2 L716.8 426.7 L716.8 428.3 L716.8 429.9 L716.9 431.5 L716.9 433.1 L716.9 434.6 L717.0 436.2 L717.0 437.8 L717.1 439.4 L717.2 440.9 L717.2 442.5 L717.3 444.1 L717.3 445.7 L717.4 447.2 L717.5 448.8 L717.5 450.4 L717.6 452.0 L717.7 453.5 L717.8 455.1 L717.9 456.6 L718.0 458.2 L718.1 459.7 L718.3 461.3 L718.4 462.8 L718.5 464.4 L718.7 465.9 L718.9 467.4 L719.0 469.0 L719.2 470.5 L719.4 472.1 L719.6 473.6 L719.7 475.2 L719.9 476.7 L720.1 478.2 L720.3 479.8 L720.6 481.3 L720.8 482.9 L721.0 484.4 L721.3 486.0 L721.6 487.5 L721.8 489.1 L722.1 490.6 L722.4 492.1 L722.6 493.8 L722.9 495.4 L723.2 497.1 L723.4 498.7 L723.7 500.4 L724.0 502.0 L724.3 503.6 L724.7 505.3 L725.0 507.0 L725.4 508.7 L725.7 510.3 L726.2 512.0 L726.6 513.7 L727.1 515.3 L727.7 517.2 L728.3 519.2 L729.0 520.8 L729.8 521.5 L731.1 520.2 L732.2 517.9 L732.7 516.3 L733.1 514.7 L733.4 512.9 L733.7 511.2 L733.9 509.5 L734.1 508.0 L734.3 506.5 L734.4 505.0 L734.5 503.5 L734.6 502.0 L734.7 500.5 L734.8 498.9 L734.9 497.4 L735.0 495.9 L735.1 494.4 L735.3 492.9 L735.4 491.4 L735.5 489.8 L735.7 488.3 L735.8 486.7 L735.9 485.2 L736.0 483.6 L736.1 482.0 L736.2 480.4 L736.3 478.9 L736.4 477.3 L736.5 475.7 L736.5 474.1 L736.6 472.5 L736.7 470.9 L736.8 469.4 L736.8 467.8 L736.9 466.2 L737.0 464.6 L737.0 463.0 L737.1 461.4 L737.1 459.9 L737.2 458.4 L737.2 456.8 L737.3 455.3 L737.3 453.8 L737.3 452.2 L737.4 450.7 L737.4 449.1 L737.4 447.5 L737.5 445.9 L737.5 444.3 L737.5 442.6 L737.5 441.0 L737.5 439.4 L737.6 437.8 L737.6 436.1 L737.6 434.6 L737.6 433.1 L737.6 431.6 L737.6 430.0 L737.6 428.5 L737.6 427.0 L737.7 425.5 L737.7 423.9 L737.7 422.4 L737.7 420.9 L737.7 419.4 L737.7 417.9 L737.7 416.3 L737.7 414.8 L737.7 413.3 L737.7 411.8 L737.7 410.2 L737.7 408.7 L737.7 407.2 L737.8 405.7 L737.8 404.2 L737.8 402.7 L737.8 401.2 L737.8 399.7 L737.8 398.2 L737.8 396.6 L737.8 395.1 L737.8 393.6 L737.8 392.1 L737.8 390.6 L737.8 389.1 L737.8 387.6 L737.8 386.1 L737.8 384.5 L737.8 383.0 L737.8 381.5 L737.8 380.0 L737.8 378.5 L737.8 378.5 L737.9 378.5 L737.9 378.7 L737.9 379.2 L737.9 380.0 L737.9 381.1 L737.9 382.4 L737.9 384.0 L737.9 385.7 L737.9 387.5 L737.9 389.5 L737.9 391.5 L737.9 393.6 L737.9 395.7 L737.9 397.8 L737.9 399.8 L737.9 401.7 L737.9 403.5 L737.9 405.2 L737.9 406.7 L738.0 408.2 L738.0 409.8 L738.0 411.3 L738.0 412.8 L738.0 414.4 L738.0 415.9 L738.0 417.4 L738.0 419.0 L738.1 420.5 L738.1 422.0 L738.1 423.6 L738.1 425.1 L738.1 426.6 L738.1 428.2 L738.2 429.7 L738.2 431.2 L738.2 432.7 L738.2 434.2 L738.3 435.8 L738.3 437.3 L738.3 438.8 L738.4 440.3 L738.4 441.8 L738.4 443.3 L738.5 444.8 L738.5 446.4 L738.6 447.9 L738.6 449.4 L738.7 450.9 L738.7 452.4 L738.8 453.9 L738.9 455.4 L738.9 456.9 L739.0 458.4 L739.0 460.0 L739.1 461.5 L739.2 463.1 L739.3 464.7 L739.4 466.3 L739.5 467.9 L739.7 469.4 L739.8 471.0 L740.0 472.6 L740.1 474.2 L740.3 475.8 L740.4 477.3 L740.6 478.9 L740.8 480.5 L741.0 482.1 L741.1 483.7 L741.3 485.3 L741.5 486.9 L741.8 488.6 L742.0 490.2 L742.3 491.9 L742.6 493.5 L742.8 495.2 L743.1 496.8 L743.3 498.5 L743.6 500.0 L743.8 501.6 L744.1 503.2 L744.3 504.8 L744.6 506.3 L744.9 507.9 L745.1 509.5 L745.4 511.0 L745.7 512.7 L746.1 514.3 L746.4 515.9 L746.8 517.5 L747.2 519.1 L747.6 520.7 L748.2 522.5 L748.7 524.4 L749.4 526.0 L750.1 526.6 L751.2 525.3 L752.2 523.2 L752.6 521.6 L753.0 520.0 L753.3 518.3 L753.5 516.7 L753.7 515.0 L753.9 513.4 L754.0 511.8 L754.1 510.2 L754.3 508.6 L754.4 507.0 L754.5 505.4 L754.5 503.8 L754.6 502.2 L754.7 500.6 L754.9 499.0 L755.0 497.2 L755.1 495.4 L755.3 493.6 L755.4 491.9 L755.5 490.1 L755.6 488.5 L755.7 487.0 L755.8 485.5 L755.8 484.0 L755.9 482.4 L756.0 480.9 L756.1 479.4 L756.1 477.8 L756.2 476.3 L756.2 474.8 L756.3 473.3 L756.3 471.7 L756.4 470.2 L756.4 468.7 L756.5 467.0 L756.5 465.3 L756.6 463.6 L756.6 461.9 L756.7 460.2 L756.7 458.5 L756.7 456.8 L756.8 455.3 L756.8 453.7 L756.8 452.1 L756.8 450.5 L756.8 449.0 L756.9 447.4 L756.9 445.8 L756.9 444.3 L756.9 442.7 L756.9 441.2 L756.9 439.6 L756.9 438.0 L756.9 436.5 L757.0 434.9 L757.0 433.4 L757.0 431.8 L757.0 430.2 L757.0 428.7 L757.0 427.1 L757.0 425.6 L757.0 424.0 L757.0 422.4 L757.0 420.9 L757.0 419.3 L757.0 417.8 L757.0 416.3 L757.0 414.7 L757.0 413.2 L757.1 411.7 L757.1 410.1 L757.1 408.6 L757.1 407.1 L757.1 405.5 L757.1 404.0 L757.1 402.5 L757.1 400.9 L757.1 399.4 L757.1 397.9 L757.1 396.4 L757.1 394.8 L757.1 393.3 L757.1 391.8 L757.1 390.2 L757.1 388.7 L757.1 388.7 L757.1 388.7 L757.1 388.9 L757.2 389.4 L757.2 390.1 L757.2 391.2 L757.2 392.5 L757.2 393.9 L757.2 395.6 L757.2 397.3 L757.2 399.2 L757.2 401.2 L757.2 403.2 L757.2 405.2 L757.2 407.1 L757.2 409.1 L757.2 410.9 L757.2 412.6 L757.2 414.2 L757.2 415.8 L757.2 417.3 L757.2 418.9 L757.2 420.5 L757.3 422.0 L757.3 423.6 L757.3 425.1 L757.3 426.7 L757.3 428.3 L757.3 429.8 L757.3 431.4 L757.4 432.9 L757.4 434.5 L757.4 436.1 L757.4 437.6 L757.4 439.2 L757.5 440.7 L757.5 442.2 L757.5 443.8 L757.5 445.3 L757.6 446.8 L757.6 448.4 L757.6 449.9 L757.7 451.4 L757.7 452.9 L757.8 454.5 L757.8 456.0 L757.9 457.5 L757.9 459.1 L758.0 460.6 L758.0 462.1 L758.1 463.6 L758.1 465.2 L758.2 466.7 L758.3 468.2 L758.4 469.7 L758.4 471.2 L758.5 472.7 L758.7 474.3 L758.8 475.8 L758.9 477.3 L759.0 478.8 L759.2 480.3 L759.3 481.8 L759.4 483.3 L759.6 484.9 L759.8 486.4 L759.9 487.9 L760.1 489.4 L760.2 491.0 L760.4 492.5 L760.7 494.1 L760.9 495.7 L761.1 497.3 L761.3 498.8 L761.6 500.4 L761.8 502.0 L762.0 503.6 L762.3 505.1 L762.5 506.6 L762.7 508.1 L762.9 509.6 L763.2 511.1 L763.4 512.6 L763.7 514.1 L763.9 515.6 L764.2 517.2 L764.5 518.7 L764.8 520.3 L765.1 521.8 L765.5 523.3 L765.9 524.8 L766.4 526.5 L766.9 528.4 L767.5 529.9 L768.1 530.5 L769.1 529.3 L770.0 527.2 L770.4 525.8 L770.8 524.2 L771.0 522.7 L771.3 521.1 L771.4 519.5 L771.6 518.0 L771.7 516.5 L771.8 515.0 L771.9 513.4 L772.0 511.9 L772.1 510.4 L772.2 508.9 L772.3 507.4 L772.4 505.8 L772.5 504.3 L772.6 502.6 L772.7 500.9 L772.9 499.2 L773.0 497.5 L773.1 495.8 L773.2 494.3 L773.3 492.7 L773.3 491.1 L773.4 489.6 L773.5 488.0 L773.5 486.5 L773.6 484.9 L773.7 483.3 L773.7 481.8 L773.8 480.2 L773.8 478.6 L773.9 477.1 L773.9 475.5 L774.0 473.9 L774.0 472.3 L774.1 470.7 L774.1 469.1 L774.1 467.5 L774.2 465.9 L774.2 464.3 L774.2 462.6 L774.3 460.9 L774.3 459.2 L774.3 457.5 L774.3 455.8 L774.3 454.1 L774.3 452.4 L774.4 450.8 L774.4 449.2 L774.4 447.6 L774.4 446.0 L774.4 444.5 L774.4 442.9 L774.4 441.3 L774.4 439.7 L774.4 438.1 L774.4 436.6 L774.5 435.0 L774.5 433.4 L774.5 431.8 L774.5 430.2 L774.5 428.7 L774.5 427.1 L774.5 425.6 L774.5 424.1 L774.5 422.5 L774.5 421.0 L774.5 419.5 L774.5 418.0 L774.5 416.4 L774.5 414.9 L774.5 413.4 L774.5 411.8 L774.5 410.3 L774.5 408.8 L774.5 407.2 L774.5 405.7 L774.5 404.2 L774.5 402.7 L774.5 401.1 L774.5 399.6 L774.6 399.6 L774.6 399.6 L774.6 399.8 L774.6 400.3 L774.6 401.1 L774.6 402.2 L774.6 403.6 L774.6 405.1 L774.6 406.8 L774.6 408.7 L774.6 410.6 L774.6 412.6 L774.6 414.6 L774.6 416.6 L774.6 418.6 L774.6 420.4 L774.6 422.2 L774.6 423.8 L774.7 425.4 L774.7 426.9 L774.7 428.5 L774.7 430.1 L774.7 431.7 L774.7 433.3 L774.7 434.8 L774.7 436.4 L774.7 438.0 L774.8 439.6 L774.8 441.1 L774.8 442.7 L774.8 444.3 L774.8 445.9 L774.9 447.4 L774.9 449.0 L774.9 450.5 L774.9 452.0 L775.0 453.6 L775.0 455.1 L775.0 456.7 L775.1 458.2 L775.1 459.7 L775.1 461.3 L775.2 462.8 L775.2 464.3 L775.3 465.9 L775.3 467.4 L775.4 468.9 L775.5 470.5 L775.5 472.0 L775.6 473.5 L775.7 475.1 L775.7 476.6 L775.8 478.1 L775.9 479.7 L776.1 481.2 L776.2 482.7 L776.3 484.3 L776.4 485.8 L776.6 487.4 L776.7 488.9 L776.9 490.4 L777.0 492.0 L777.2 493.5 L777.4 495.0 L777.5 496.5 L777.7 498.0 L777.9 499.5 L778.1 501.0 L778.3 502.5 L778.6 504.0 L778.8 505.5 L779.0 507.0 L779.2 508.5 L779.5 510.1 L779.7 511.7 L780.0 513.4 L780.2 515.0 L780.5 516.6 L780.7 518.3 L781.0 519.9 L781.3 521.6 L781.7 523.4 L782.0 525.2 L782.5 526.9 L782.9 528.6 L783.5 530.8 L784.2 533.0 L785.0 534.0 L785.9 532.8 L786.6 530.9 L787.1 529.1 L787.4 527.2 L787.6 525.4 L787.8 523.5 L788.0 521.9 L788.1 520.3 L788.2 518.7 L788.3 517.1 L788.4 515.5 L788.5 513.8 L788.5 512.2 L788.6 510.6 L788.7 509.0 L788.8 507.4 L788.9 505.8 L789.0 504.1 L789.2 502.5 L789.2 500.9 L789.3 499.3 L789.4 497.6 L789.5 496.0 L789.5 494.4 L789.6 492.8 L789.7 491.2 L789.7 489.6 L789.8 488.0 L789.8 486.3 L789.9 484.7 L789.9 483.1 L790.0 481.5 L790.0 480.0 L790.0 478.4 L790.1 476.9 L790.1 475.4 L790.1 473.8 L790.2 472.3 L790.2 470.8 L790.2 469.1 L790.2 467.5 L790.2 465.9 L790.3 464.3 L790.3 462.6 L790.3 461.0 L790.3 459.4 L790.3 457.9 L790.3 456.4 L790.3 454.9 L790.3 453.3 L790.3 451.8 L790.4 450.3 L790.4 448.8 L790.4 447.3 L790.4 445.8 L790.4 444.3 L790.4 442.8 L790.4 441.3 L790.4 439.8 L790.4 438.3 L790.4 436.8 L790.4 435.2 L790.4 433.7 L790.4 432.1 L790.4 430.6 L790.4 429.0 L790.4 427.5 L790.4 426.0 L790.4 424.4 L790.4 422.9 L790.5 421.3 L790.5 419.8 L790.5 418.3 L790.5 416.7 L790.5 415.2 L790.5 413.6 L790.5 412.1 L790.5 410.5 L790.5 409.0 L790.5 409.0 L790.5 409.0 L790.5 409.2 L790.5 409.8 L790.5 410.7 L790.5 411.9 L790.5 413.3 L790.5 414.9 L790.5 416.7 L790.5 418.7 L790.5 420.7 L790.5 422.7 L790.5 424.8 L790.6 426.8 L790.6 428.7 L790.6 430.5 L790.6 432.1 L790.6 433.7 L790.6 435.2 L790.6 436.7 L790.6 438.2 L790.6 439.7 L790.6 441.2 L790.6 442.7 L790.6 444.2 L790.7 445.7 L790.7 447.2 L790.7 448.7 L790.7 450.3 L790.7 451.8 L790.7 453.3 L790.8 454.8 L790.8 456.3 L790.8 457.9 L790.8 459.5 L790.9 461.0 L790.9 462.6 L790.9 464.1 L791.0 465.7 L791.0 467.3 L791.1 468.8 L791.1 470.4 L791.2 471.9 L791.2 473.5 L791.3 475.1 L791.3 476.6 L791.4 478.2 L791.4 479.7 L791.5 481.3 L791.6 482.9 L791.7 484.5 L791.8 486.1 L791.9 487.7 L792.0 489.2 L792.2 490.8 L792.3 492.4 L792.5 494.0 L792.6 495.6 L792.8 497.1 L792.9 498.7 L793.1 500.3 L793.3 501.9 L793.5 503.5 L793.7 505.1 L793.9 506.7 L794.1 508.3 L794.4 510.0 L794.6 511.6 L794.8 513.2 L795.1 514.7 L795.3 516.3 L795.5 517.9 L795.7 519.4 L796.0 521.0 L796.2 522.5 L796.5 524.1 L796.8 525.8 L797.1 527.5 L797.5 529.1 L797.8 530.8 L798.3 532.5 L798.8 534.6 L799.5 536.7 L800.2 537.6 L801.0 536.5 L801.7 534.6 L802.1 532.9 L802.3 531.1 L802.6 529.3 L802.7 527.5 L802.9 525.9 L803.0 524.4 L803.1 522.8 L803.2 521.3 L803.2 519.7 L803.3 518.1 L803.4 516.6 L803.5 515.0 L803.5 513.5 L803.6 511.9 L803.7 510.3 L803.8 508.8 L803.9 507.2 L804.0 505.6 L804.1 504.1 L804.1 502.5 L804.2 501.0 L804.3 499.4 L804.3 497.9 L804.4 496.3 L804.4 494.7 L804.5 493.2 L804.5 491.6 L804.6 490.1 L804.6 488.5 L804.7 486.9 L804.7 485.2 L804.7 483.5 L804.8 481.8 L804.8 480.0 L804.8 478.3 L804.9 476.6 L804.9 475.0 L804.9 473.4 L804.9 471.9 L804.9 470.3 L804.9 468.7 L805.0 467.2 L805.0 465.6 L805.0 464.0 L805.0 462.5 L805.0 460.9 L805.0 459.4 L805.0 457.8 L805.0 456.2 L805.0 454.7 L805.0 453.1 L805.0 451.6 L805.0 450.0 L805.1 448.5 L805.1 446.9 L805.1 445.3 L805.1 443.8 L805.1 442.2 L805.1 440.6 L805.1 439.0 L805.1 437.5 L805.1 435.9 L805.1 434.3 L805.1 432.7 L805.1 431.2 L805.1 429.6 L805.1 428.0 L805.1 426.4 L805.1 424.9 L805.1 423.3 L805.1 421.7 L805.1 420.1 L805.1 418.6 L805.1 417.0 L805.1 417.0 L805.1 417.0 L805.2 417.2 L805.2 417.8 L805.2 418.8 L805.2 420.1 L805.2 421.7 L805.2 423.5 L805.2 425.4 L805.2 427.5 L805.2 429.6 L805.2 431.7 L805.2 433.8 L805.2 435.8 L805.2 437.7 L805.2 439.4 L805.2 441.0 L805.2 442.5 L805.2 444.1 L805.2 445.7 L805.3 447.2 L805.3 448.8 L805.3 450.4 L805.3 451.9 L805.3 453.5 L805.3 455.1 L805.3 456.6 L805.4 458.2 L805.4 459.8 L805.4 461.3 L805.4 462.8 L805.4 464.3 L805.5 465.9 L805.5 467.4 L805.5 468.9 L805.6 470.4 L805.6 471.9 L805.6 473.4 L805.7 474.9 L805.7 476.4 L805.8 477.9 L805.8 479.4 L805.9 481.0 L805.9 482.5 L806.0 484.0 L806.0 485.5 L806.1 487.0 L806.2 488.5 L806.3 490.1 L806.4 491.6 L806.5 493.1 L806.6 494.7 L806.7 496.2 L806.9 497.7 L807.0 499.3 L807.1 500.8 L807.3 502.3 L807.4 503.9 L807.6 505.4 L807.8 507.0 L807.9 508.5 L808.1 510.1 L808.4 511.6 L808.6 513.2 L808.8 514.7 L809.0 516.3 L809.2 517.8 L809.5 519.4 L809.7 520.9 L809.9 522.4 L810.1 523.9 L810.3 525.4 L810.6 526.9 L810.8 528.4 L811.1 530.1 L811.4 531.7 L811.7 533.3 L812.1 534.9 L812.5 536.5 L813.0 538.6 L813.6 540.6 L814.3 541.5 L815.0 540.4 L815.6 538.6 L815.9 536.9 L816.2 535.2 L816.4 533.4 L816.6 531.7 L816.7 530.2 L816.8 528.7 L816.9 527.2 L816.9 525.6 L817.0 524.1 L817.1 522.6 L817.1 521.1 L817.2 519.6 L817.3 518.1 L817.4 516.6 L817.5 515.1 L817.5 513.5 L817.6 512.0 L817.7 510.5 L817.8 509.0 L817.8 507.5 L817.9 506.0 L817.9 504.5 L818.0 502.9 L818.0 501.4 L818.1 499.9 L818.1 498.4 L818.2 496.9 L818.2 495.4 L818.2 493.9 L818.3 492.4 L818.3 490.7 L818.3 489.0 L818.4 487.3 L818.4 485.7 L818.4 484.0 L818.5 482.3 L818.5 480.8 L818.5 479.3 L818.5 477.7 L818.5 476.2 L818.5 474.7 L818.5 473.2 L818.5 471.7 L818.6 470.1 L818.6 468.6 L818.6 467.1 L818.6 465.6 L818.6 464.1 L818.6 462.6 L818.6 461.1 L818.6 459.5 L818.6 458.0 L818.6 456.5 L818.6 455.0 L818.6 453.5 L818.6 452.0 L818.6 450.5 L818.6 448.9 L818.6 447.4 L818.6 445.9 L818.6 444.4 L818.7 442.8 L818.7 441.3 L818.7 439.8 L818.7 438.3 L818.7 436.7 L818.7 435.2 L818.7 433.7 L818.7 432.1 L818.7 430.6 L818.7 429.1 L818.7 427.6 L818.7 426.0 L818.7 424.5 L818.7 424.5 L818.7 424.5 L818.7 424.7 L818.7 425.3 L818.7 426.3 L818.7 427.5 L818.7 429.0 L818.7 430.8 L818.7 432.6 L818.7 434.6 L818.7 436.7 L818.7 438.7 L818.7 440.8 L818.8 442.7 L818.8 444.5 L818.8 446.2 L818.8 447.7 L818.8 449.2 L818.8 450.7 L818.8 452.2 L818.8 453.8 L818.8 455.3 L818.8 456.8 L818.8 458.3 L818.8 459.8 L818.9 461.3 L818.9 462.9 L818.9 464.4 L818.9 465.9 L818.9 467.4 L818.9 469.0 L819.0 470.5 L819.0 472.1 L819.0 473.6 L819.1 475.2 L819.1 476.8 L819.1 478.3 L819.2 479.9 L819.2 481.4 L819.2 483.0 L819.3 484.5 L819.3 486.1 L819.4 487.7 L819.5 489.2 L819.5 490.8 L819.6 492.4 L819.7 494.0 L819.7 495.6 L819.9 497.2 L820.0 498.8 L820.1 500.4 L820.2 502.0 L820.3 503.6 L820.5 505.2 L820.6 506.8 L820.8 508.5 L820.9 510.1 L821.1 511.6 L821.2 513.1 L821.4 514.6 L821.6 516.1 L821.8 517.6 L822.0 519.1 L822.2 520.6 L822.4 522.1 L822.6 523.8 L822.9 525.5 L823.1 527.2 L823.3 528.9 L823.6 530.6 L823.8 532.3 L824.1 533.9 L824.4 535.5 L824.7 537.1 L825.0 538.6 L825.3 540.2 L825.8 541.8 L826.4 543.4 L827.0 545.0" stroke="#06784a" stroke-width="2.0" stroke-dasharray="1.9 4.32"/>
<path d="M115.7 88.0 L117.1 88.6 L118.5 89.1 L119.9 89.7 L121.3 90.2 L122.7 90.8 L124.1 91.4 L125.5 91.9 L126.9 92.5 L128.3 93.0 L129.7 93.6 L131.1 94.1 L132.5 94.7 L133.9 95.3 L135.3 95.8 L136.7 96.4 L138.1 96.9 L139.5 97.5 L140.9 98.1 L142.3 98.6 L143.7 99.2 L145.1 99.7 L146.5 100.3 L147.9 100.9 L149.3 101.4 L150.7 102.0 L152.1 102.5 L153.5 103.1 L154.9 103.6 L156.4 104.2 L157.8 104.8 L159.2 105.3 L160.6 105.9 L162.0 106.4 L163.4 107.0 L164.8 107.6 L166.2 108.1 L167.6 108.7 L169.0 109.2 L170.4 109.8 L171.8 110.3 L173.2 110.9 L174.6 111.5 L176.0 112.0 L177.4 112.6 L178.8 113.1 L180.2 113.7 L181.6 114.3 L183.0 114.8 L184.4 115.4 L185.8 115.9 L187.2 116.5 L188.6 117.0 L190.0 117.6 L191.4 118.2 L192.8 118.7 L194.2 119.3 L195.6 119.8 L197.0 120.4 L198.4 121.0 L199.9 121.5 L201.3 122.1 L202.7 122.6 L204.1 123.2 L205.5 123.7 L206.9 124.3 L208.3 124.8 L209.7 125.4 L211.1 126.0 L212.5 126.5 L213.9 127.1 L215.4 127.6 L216.8 128.2 L218.2 128.7 L219.6 129.3 L221.0 129.8 L222.4 130.4 L223.8 130.9 L225.2 131.5 L226.6 132.1 L228.0 132.6 L229.4 133.2 L230.9 133.7 L232.3 134.3 L233.7 134.8 L235.1 135.4 L236.5 136.0 L237.9 136.5 L239.3 137.1 L240.7 137.6 L242.1 138.2 L243.5 138.7 L244.9 139.3 L246.3 139.9 L247.7 140.4 L249.2 141.0 L250.6 141.6 L252.0 142.1 L253.4 142.7 L254.8 143.2 L256.2 143.8 L257.6 144.4 L259.0 144.9 L260.4 145.5 L261.8 146.1 L263.2 146.7 L264.6 147.2 L266.0 147.8 L267.4 148.4 L268.8 148.9 L270.2 149.5 L271.6 150.1 L273.0 150.7 L274.4 151.2 L275.8 151.8 L277.2 152.4 L278.6 153.0 L280.0 153.5 L281.4 154.1 L282.7 154.7 L284.1 155.3 L285.5 155.9 L286.9 156.4 L288.3 157.0 L289.7 157.6 L291.1 158.2 L292.5 158.8 L293.9 159.3 L295.3 159.9 L296.7 160.5 L298.1 161.1 L299.5 161.7 L300.9 162.3 L302.2 162.9 L303.6 163.4 L305.0 164.0 L306.4 164.6 L307.8 165.2 L309.2 165.8 L310.6 166.4 L312.0 167.0 L313.4 167.6 L314.8 168.1 L316.2 168.7 L317.5 169.3 L318.9 169.9 L320.3 170.5 L321.7 171.1 L323.1 171.7 L324.5 172.3 L325.9 172.9 L327.3 173.5 L328.7 174.0 L330.0 174.6 L331.4 175.2 L332.8 175.8 L334.2 176.4 L335.6 177.0 L337.0 177.6 L338.4 178.2 L339.8 178.8 L341.2 179.4 L342.6 180.0 L344.0 180.6 L345.4 181.2 L346.8 181.8 L348.2 182.4 L349.6 183.0 L351.1 183.6 L352.5 184.2 L353.9 184.8 L355.3 185.4 L356.7 186.0 L358.1 186.6 L359.5 187.2 L360.9 187.8 L362.3 188.4 L363.7 189.0 L365.1 189.6 L366.5 190.2 L367.9 190.8 L369.3 191.4 L370.7 192.1 L372.1 192.7 L373.5 193.3 L374.9 193.9 L376.3 194.5 L377.7 195.1 L379.1 195.7 L380.5 196.3 L381.9 196.9 L383.3 197.5 L384.7 198.1 L386.1 198.7 L387.5 199.4 L388.9 200.0 L390.3 200.6 L391.7 201.2 L393.1 201.8 L394.5 202.4 L395.9 203.0 L397.3 203.6 L398.7 204.3 L400.1 204.9 L401.5 205.5 L402.9 206.1 L404.3 206.7 L405.7 207.4 L407.2 208.0 L408.6 208.6 L410.0 209.3 L411.4 209.9 L412.8 210.5 L414.3 211.2 L415.7 211.8 L417.1 212.4 L418.5 213.1 L419.9 213.7 L421.4 214.4 L422.8 215.0 L424.2 215.6 L425.6 216.3 L427.0 216.9 L428.5 217.5 L429.9 218.2 L431.3 218.8 L432.7 219.4 L434.1 220.0 L435.5 220.6 L436.9 221.2 L438.2 221.9 L439.6 222.5 L441.0 223.1 L442.4 223.7 L443.8 224.3 L445.2 224.9 L446.6 225.5 L448.0 226.1 L449.4 226.7 L450.7 227.4 L452.1 228.0 L453.5 228.6 L454.9 229.2 L456.3 229.9 L457.7 230.5 L459.1 231.2 L460.5 231.8 L461.9 232.5 L463.3 233.1 L464.7 233.8 L466.1 234.4 L467.5 235.1 L468.9 235.7 L470.2 236.4 L471.6 237.1 L473.0 237.7 L474.4 238.4 L475.8 239.0 L477.2 239.7 L478.6 240.3 L480.0 241.0 L481.4 241.6 L482.7 242.3 L484.1 242.9 L485.5 243.6 L486.8 244.2 L488.2 244.8 L489.6 245.5 L490.9 246.1 L492.3 246.7 L493.7 247.4 L495.0 248.0 L496.4 248.6 L497.8 249.3 L499.2 249.9 L500.5 250.5 L501.9 251.2 L503.3 251.8 L504.6 252.5 L506.0 253.1 L507.3 253.7 L508.7 254.4 L510.1 255.0 L511.4 255.7 L512.8 256.3 L514.2 257.0 L515.5 257.6 L516.9 258.3 L518.2 258.9 L519.6 259.6 L521.0 260.3 L522.4 261.0 L523.8 261.7 L525.2 262.4 L526.6 263.1 L528.0 263.8 L529.4 264.5 L530.8 265.2 L532.2 265.9 L533.6 266.6 L535.0 267.3 L536.4 268.0 L537.7 268.7 L539.1 269.4 L540.5 270.1 L541.9 270.8 L543.3 271.5 L544.7 272.2 L546.1 272.9 L547.5 273.6 L548.9 274.3 L550.2 275.0 L551.6 275.6 L552.9 276.3 L554.3 277.0 L555.6 277.6 L557.0 278.3 L558.3 279.0 L559.7 279.6 L561.0 280.3 L562.4 280.9 L563.7 281.6 L565.1 282.3 L566.5 282.9 L567.8 283.6 L569.2 284.2 L570.5 284.9 L571.9 285.6 L573.2 286.2 L574.6 286.9 L575.9 287.5 L577.3 288.2 L578.6 288.9 L580.0 289.5 L581.3 290.2 L582.7 290.9 L584.0 291.5 L585.4 292.2 L586.7 292.9 L588.1 293.5 L589.4 294.2 L590.8 294.9 L592.1 295.6 L593.5 296.3 L594.9 297.0 L596.3 297.7 L597.6 298.4 L599.0 299.1 L600.4 299.8" stroke="#ff0000" stroke-width="1.6" stroke-dasharray="11.4 7.96"/>
<path d="M605.5 302.4 L606.9 303.1 L608.3 303.7 L609.7 304.4 L611.0 305.1 L612.4 305.8 L613.8 306.5 L615.2 307.1" stroke="#ff0000" stroke-width="1.6"/>
<path d="M621.7 310.2 L623.1 310.9 L624.6 311.6 L626.0 312.3 L627.5 313.0 L628.9 313.6 L630.4 314.3 L631.8 315.0" stroke="#ff0000" stroke-width="1.6"/>
<path d="M640.5 319.1 L641.8 319.7 L643.2 320.3 L644.5 320.9 L645.9 321.6 L647.2 322.2 L648.6 322.8 L649.9 323.4" stroke="#ff0000" stroke-width="1.6"/>
<path d="M657.1 326.8 L658.4 327.4 L659.8 328.0 L661.1 328.7 L662.5 329.3 L663.8 329.9 L665.2 330.5 L666.5 331.2" stroke="#ff0000" stroke-width="1.6"/>
<path d="M674.5 334.9 L675.8 335.5 L677.2 336.2 L678.5 336.8 L679.9 337.4 L681.2 338.0 L682.6 338.7 L683.9 339.3" stroke="#ff0000" stroke-width="1.6"/>
<path d="M691.1 342.7 L692.4 343.3 L693.8 343.9 L695.1 344.6 L696.5 345.2 L697.8 345.8 L699.2 346.5 L700.5 347.1" stroke="#ff0000" stroke-width="1.6"/>
<path d="M708.4 350.9 L709.7 351.5 L711.1 352.2 L712.4 352.8 L713.8 353.5 L715.1 354.1 L716.5 354.8 L717.8 355.4" stroke="#ff0000" stroke-width="1.6"/>
<path d="M725.2 359.1 L726.4 359.7 L727.7 360.3 L728.9 360.9 L730.2 361.5 L731.4 362.1 L732.7 362.7 L733.9 363.4" stroke="#ff0000" stroke-width="1.6"/>
<path d="M742.5 367.6 L743.7 368.3 L745.0 368.9 L746.2 369.5 L747.5 370.1 L748.7 370.8 L750.0 371.4 L751.2 372.0" stroke="#ff0000" stroke-width="1.6"/>
<path d="M759.2 376.0 L760.4 376.6 L761.7 377.2 L762.9 377.8 L764.1 378.5 L765.3 379.1 L766.6 379.7 L767.8 380.3" stroke="#ff0000" stroke-width="1.6"/>
<path d="M775.8 384.3 L777.1 385.0 L778.5 385.6 L779.8 386.3 L781.2 387.0 L782.5 387.7 L783.9 388.3 L785.2 389.0" stroke="#ff0000" stroke-width="1.6"/>
<path d="M792.4 392.6 L793.7 393.3 L795.1 394.0 L796.4 394.6 L797.8 395.3 L799.1 396.0 L800.5 396.6 L801.8 397.3" stroke="#ff0000" stroke-width="1.6"/>
<path d="M809.8 401.3 L811.0 402.0 L812.3 402.6 L813.5 403.2 L814.7 403.8 L815.9 404.4 L817.2 405.1 L818.4 405.7" stroke="#ff0000" stroke-width="1.6"/>
<path d="M420.7 213.2 L422.2 213.7 L423.7 214.4 L425.2 215.1 L426.8 215.8 L428.3 216.5 L429.8 217.1 L431.3 217.8" stroke="#ff0000" stroke-width="1.6"/>
<path d="M438.0 220.7 L440.2 221.7 L442.4 222.6 L444.6 223.6 L446.9 224.6 L449.1 225.5 L451.3 226.5 L453.5 227.5" stroke="#ff0000" stroke-width="1.6"/>
<path d="M456.4 228.8 L460.3 230.6 L464.3 232.5 L468.2 234.4 L472.2 236.2 L476.1 238.1 L480.1 239.9 L484.0 241.8" stroke="#ff0000" stroke-width="1.6"/>
<path d="M486.4 242.9 L491.1 245.0 L495.9 247.2 L500.6 249.4 L505.4 251.5 L510.1 253.7 L514.9 256.0 L519.6 258.2" stroke="#ff0000" stroke-width="1.6"/>
<path d="M526.4 261.5 L527.8 262.2 L529.3 262.9 L530.7 263.6 L532.2 264.4 L533.6 265.1 L535.1 265.8 L536.5 266.5" stroke="#ff0000" stroke-width="1.6"/>
<path d="M541.3 268.9 L543.1 269.8 L544.9 270.7 L546.7 271.6 L548.6 272.4 L550.4 273.3 L552.2 274.2 L554.0 275.0" stroke="#ff0000" stroke-width="1.6"/>
<path d="M561.2 278.3 L562.6 278.9 L563.9 279.6 L565.3 280.2 L566.7 280.8 L568.1 281.4 L569.4 282.0 L570.8 282.7" stroke="#ff0000" stroke-width="1.6"/>
<path d="M579.0 286.4 L581.7 287.6 L584.4 288.9 L587.1 290.2 L589.7 291.5 L592.4 292.8 L595.1 294.1 L597.8 295.5" stroke="#ff0000" stroke-width="1.6"/>
<path d="M605.5 299.4 L606.9 300.1 L608.3 300.8 L609.7 301.5 L611.0 302.2 L612.4 302.9 L613.8 303.6 L615.2 304.2" stroke="#ff0000" stroke-width="1.6"/>
<path d="M621.7 307.3 L623.1 308.0 L624.6 308.7 L626.0 309.4 L627.5 310.1 L628.9 310.8 L630.4 311.5 L631.8 312.1" stroke="#ff0000" stroke-width="1.6"/>
<path d="M640.5 316.3 L641.8 317.0 L643.2 317.6 L644.5 318.3 L645.9 318.9 L647.2 319.5 L648.6 320.2 L649.9 320.8" stroke="#ff0000" stroke-width="1.6"/>
<path d="M657.1 324.3 L658.4 324.9 L659.8 325.6 L661.1 326.2 L662.5 326.9 L663.8 327.5 L665.2 328.2 L666.5 328.8" stroke="#ff0000" stroke-width="1.6"/>
<path d="M674.5 332.6 L675.8 333.2 L677.2 333.9 L678.5 334.5 L679.9 335.1 L681.2 335.8 L682.6 336.4 L683.9 337.0" stroke="#ff0000" stroke-width="1.6"/>
<path d="M691.1 340.4 L692.4 341.1 L693.8 341.7 L695.1 342.4 L696.5 343.0 L697.8 343.6 L699.2 344.3 L700.5 344.9" stroke="#ff0000" stroke-width="1.6"/>
<path d="M708.4 348.7 L709.7 349.4 L711.1 350.1 L712.4 350.7 L713.8 351.4 L715.1 352.0 L716.5 352.7 L717.8 353.4" stroke="#ff0000" stroke-width="1.6"/>
<path d="M725.2 357.1 L726.4 357.7 L727.7 358.4 L728.9 359.0 L730.2 359.6 L731.4 360.3 L732.7 360.9 L733.9 361.5" stroke="#ff0000" stroke-width="1.6"/>
<path d="M742.5 365.9 L743.7 366.6 L745.0 367.2 L746.2 367.9 L747.5 368.5 L748.7 369.1 L750.0 369.8 L751.2 370.4" stroke="#ff0000" stroke-width="1.6"/>
<path d="M759.2 374.5 L760.4 375.2 L761.7 375.8 L762.9 376.4 L764.1 377.1 L765.3 377.7 L766.6 378.3 L767.8 378.9" stroke="#ff0000" stroke-width="1.6"/>
<path d="M775.8 383.1 L777.1 383.7 L778.5 384.4 L779.8 385.1 L781.2 385.8 L782.5 386.5 L783.9 387.2 L785.2 387.9" stroke="#ff0000" stroke-width="1.6"/>
<path d="M792.4 391.6 L793.7 392.3 L795.1 393.0 L796.4 393.7 L797.8 394.3 L799.1 395.0 L800.5 395.7 L801.8 396.4" stroke="#ff0000" stroke-width="1.6"/>
<path d="M809.8 400.6 L811.0 401.2 L812.3 401.8 L813.5 402.5 L814.7 403.1 L815.9 403.7 L817.2 404.4 L818.4 405.0" stroke="#ff0000" stroke-width="1.6"/>
<path d="M115.7 100.0 L117.1 100.6 L118.5 101.1 L119.9 101.7 L121.3 102.2 L122.7 102.8 L124.1 103.3 L125.5 103.9 L126.9 104.4 L128.3 105.0 L129.7 105.5 L131.1 106.1 L132.5 106.6 L133.9 107.2 L135.3 107.7 L136.7 108.3 L138.1 108.8 L139.5 109.3 L140.9 109.9 L142.3 110.4 L143.7 111.0 L145.1 111.5 L146.5 112.1 L147.9 112.6 L149.3 113.2 L150.7 113.7 L152.1 114.3 L153.5 114.8 L154.9 115.4 L156.3 115.9 L157.7 116.5 L159.2 117.0 L160.6 117.6 L162.0 118.1 L163.4 118.7 L164.8 119.2 L166.2 119.8 L167.6 120.3 L169.0 120.9 L170.4 121.4 L171.8 122.0 L173.2 122.5 L174.6 123.1 L176.0 123.6 L177.4 124.2 L178.8 124.7 L180.2 125.3 L181.6 125.8 L183.0 126.4 L184.4 126.9 L185.8 127.5 L187.2 128.0 L188.6 128.6 L190.0 129.1 L191.4 129.7 L192.8 130.2 L194.2 130.8 L195.6 131.3 L197.0 131.9 L198.4 132.4 L199.8 133.0 L201.2 133.6 L202.6 134.2 L204.0 134.7 L205.4 135.3 L206.8 135.9 L208.2 136.4 L209.6 137.0 L211.0 137.6 L212.4 138.2 L213.8 138.8 L215.2 139.3 L216.6 139.9 L218.0 140.5 L219.4 141.1 L220.8 141.6 L222.2 142.2 L223.6 142.8 L225.0 143.4 L226.4 143.9 L227.8 144.5 L229.2 145.1 L230.6 145.6 L232.0 146.2 L233.4 146.8 L234.8 147.3 L236.2 147.9 L237.6 148.4 L239.0 149.0 L240.5 149.6 L241.9 150.1 L243.3 150.6 L244.7 151.2 L246.1 151.7 L247.5 152.2 L248.9 152.8 L250.3 153.3 L251.7 153.8 L253.2 154.3 L254.6 154.8 L256.0 155.3 L257.4 155.8 L258.9 156.3 L260.3 156.8 L261.7 157.3 L263.1 157.8 L264.6 158.2 L266.0 158.7 L267.5 159.2 L269.0 159.7 L270.6 160.2 L272.1 160.7 L273.6 161.1 L275.2 161.6 L276.7 162.1 L278.2 162.5 L279.8 162.9 L281.3 163.3 L282.9 163.7 L284.4 164.1 L286.0 164.4 L287.5 164.7 L289.0 165.0 L290.5 165.3 L292.0 165.6 L293.5 165.9 L295.0 166.2 L296.5 166.5 L298.0 166.8 L299.5 167.0 L301.0 167.2 L302.5 167.4 L304.0 167.5 L305.5 167.6 L307.0 167.6 L308.5 167.6 L310.0 167.4 L311.5 167.2 L313.0 167.0 L314.5 166.7 L316.0 166.4 L317.6 166.0 L319.1 165.4 L320.6 164.8 L322.0 164.0 L323.4 162.9 L324.8 161.5 L326.0 160.0 L327.1 158.6 L328.2 157.1 L329.1 155.6 L330.0 154.0 L330.7 152.5 L331.4 150.9 L332.1 149.3 L332.6 147.6 L333.0 146.0 L333.3 144.4 L333.6 142.7 L333.9 141.0 L334.1 139.4 L334.3 137.7 L334.4 136.0 L334.5 134.4 L334.6 132.8 L334.7 131.2 L334.8 129.6 L334.9 128.0 L335.0 126.4 L335.1 124.8 L335.1 123.2 M336.1 123.2 L336.1 124.8 L336.2 126.4 L336.3 128.0 L336.4 129.6 L336.5 131.2 L336.6 132.8 L336.7 134.4 L336.8 136.0 L337.0 137.7 L337.2 139.4 L337.4 141.0 L337.7 142.7 L338.1 144.4 L338.4 146.0 L338.8 147.6 L339.3 149.3 L339.8 150.9 L340.4 152.4 L341.0 154.0 L341.7 155.6 L342.4 157.1 L343.2 158.7 L344.1 160.2 L345.0 161.6 L346.0 163.0 L346.9 164.2 L347.9 165.4 L349.0 166.5 L350.1 167.7 L351.3 168.8 L352.4 169.8 L353.6 170.9 L354.8 172.0 L356.0 173.0 L357.2 174.1 L358.4 175.1 L359.6 176.1 L360.9 177.1 L362.1 178.1 L363.4 179.1 L364.7 180.1 L366.0 181.0 L367.3 181.9 L368.6 182.7 L369.9 183.6 L371.2 184.4 L372.5 185.2 L373.8 186.0 L375.2 186.8 L376.5 187.6 L377.9 188.4 L379.2 189.2 L380.6 189.9 L381.9 190.7 L383.3 191.5 L384.6 192.2 L386.0 193.0 L387.3 193.7 L388.6 194.5 L390.0 195.2 L391.3 195.9 L392.6 196.7 L393.9 197.4 L395.3 198.1 L396.6 198.8 L398.0 199.5 L399.3 200.2 L400.6 200.9 L402.0 201.6 L403.3 202.3 L404.7 203.0 L406.0 203.7 L407.4 204.4 L408.8 205.1 L410.2 205.9 L411.6 206.6 L413.0 207.3 L414.4 208.0 L415.8 208.7 L417.2 209.4 L418.6 210.1 L420.0 210.8 L421.5 211.6 L423.0 212.3 L424.5 213.1 L426.0 213.9 L427.4 214.6 L428.9 215.4 L430.5 216.1 L432.0 216.7 L433.5 217.3 L434.9 217.8 L436.4 218.4 L437.9 218.9 L439.4 219.4 L441.0 219.8 L442.5 220.2 L444.0 220.6 L445.6 221.0 L447.2 221.3 L448.8 221.7 L450.4 221.9 L452.0 222.0 L453.7 221.8 L455.5 221.2 L457.0 220.5 L458.7 219.2 L460.0 217.5 L460.6 216.0 L461.0 214.4 L461.4 212.7 L461.6 211.0 L461.8 209.4 L461.9 207.9 L462.0 206.3 L462.1 204.7 L462.2 203.2 M463.0 203.2 L463.1 204.7 L463.2 206.3 L463.3 207.9 L463.4 209.4 L463.6 211.0 L463.8 212.6 L464.1 214.3 L464.5 215.9 L465.0 217.5 L465.5 219.0 L466.2 220.5 L467.2 221.9 L468.3 223.3 L469.5 224.6 L470.8 225.8 L472.0 227.0 L473.1 228.0 L474.3 229.0 L475.6 230.0 L476.8 230.9 L478.2 231.8 L479.5 232.7 L480.8 233.6 L482.2 234.4 L483.6 235.2 L485.0 236.1 L486.4 236.9 L487.8 237.6 L489.2 238.4 L490.6 239.2 L492.0 240.0 L493.4 240.8 L494.8 241.5 L496.2 242.3 L497.6 243.0 L499.0 243.7 L500.5 244.4 L501.9 245.1 L503.4 245.8 L504.8 246.5 L506.2 247.2 L507.7 247.9 L509.1 248.6 L510.6 249.3 L512.0 250.0 L513.4 250.7 L514.8 251.5 L516.2 252.2 L517.5 253.0 L518.9 253.8 L520.3 254.5 L521.7 255.2 L523.1 255.8 L524.5 256.3 L526.0 256.8 L527.5 257.2 L529.0 257.6 L530.5 257.9 L532.0 258.0 L533.5 257.5 L534.6 256.5 L535.2 255.2 L535.6 253.6 L535.9 252.0 L536.0 250.5 L536.2 248.9 M537.0 250.4 L537.1 252.0 L537.4 253.9 L537.8 255.8 L538.4 257.5 L539.1 259.0 L540.2 260.3 L541.4 261.7 L542.7 262.9 L544.0 264.0 L545.2 264.9 L546.4 265.8 L547.7 266.7 L549.1 267.5 L550.5 268.3 L551.9 269.0 L553.3 269.7 L554.8 270.4 L556.2 271.2 L557.7 271.9 L559.1 272.6 L560.6 273.3 L562.0 274.0 L563.4 274.7 L564.7 275.5 L566.1 276.3 L567.5 277.0 L568.8 277.8 L570.2 278.6 L571.6 279.3 L572.9 280.0 L574.3 280.7 L575.7 281.4 L577.1 282.0 L578.6 282.5 L580.0 283.0 L581.6 283.5 L583.3 284.0 L584.9 284.4 L586.5 284.6 L587.6 284.3 L588.4 283.6 L588.9 282.5 L589.2 280.9 L589.3 279.0 L589.4 280.9 L589.8 282.8 L590.2 284.5 L590.9 286.0 L592.0 287.3 L593.3 288.3 L594.8 289.1 L596.4 289.8 L598.0 290.6 L599.3 291.3 L600.6 292.1 L602.0 292.8 L603.3 293.6 L604.6 294.4 L605.9 295.1 L607.2 295.9 L608.5 296.7 L609.8 297.5 L611.1 298.2 L612.4 299.0 L613.8 299.7 L615.1 300.4 L616.4 301.2 L617.8 301.8 L619.1 302.5 L620.5 303.1 L621.8 303.7 L623.2 304.2 L624.6 304.7 L626.0 305.2 L627.8 305.7 L629.2 306.0 L629.8 305.3 L630.2 303.8 L630.5 305.7 L631.2 307.2 L632.4 308.2 L634.0 309.0 L635.3 309.8 L636.6 310.6 L637.9 311.3 L639.2 312.1 L640.6 312.9 L641.9 313.7 L643.2 314.4 L644.5 315.2 L645.9 315.9 L647.2 316.7 L648.6 317.4 L649.9 318.1 L651.3 318.8 L652.6 319.5 L654.0 320.1 L655.4 320.7 L656.8 321.4 L658.2 321.9 L659.6 322.5 L661.0 323.0 L662.1 323.4 L663.0 323.6 L663.3 323.3 L663.6 322.6 L663.8 323.7 L664.2 324.6 L665.4 325.5 L667.0 326.2 L668.4 326.9 L669.7 327.7 L671.1 328.4 L672.4 329.1 L673.8 329.9 L675.2 330.6 L676.6 331.3 L677.9 332.0 L679.3 332.7 L680.7 333.4 L682.1 334.1 L683.4 334.8 L684.8 335.5 L686.2 336.2 L687.6 336.9 L689.0 337.6 L690.3 338.3 L691.7 339.0 L693.1 339.7 L694.5 340.4 L695.9 341.1 L697.2 341.8 L698.6 342.5 L700.0 343.2 L701.3 343.9 L702.7 344.6 L704.0 345.3 L705.3 346.0 L706.7 346.6 L708.0 347.3 L709.3 348.0 L710.7 348.7 L712.0 349.4 L713.3 350.1 L714.7 350.8 L716.0 351.5 L717.3 352.2 L718.7 352.9 L720.0 353.6 L721.3 354.2 L722.7 354.9 L724.0 355.6 L725.3 356.3 L726.7 357.0 L728.0 357.7 L729.3 358.4 L730.7 359.1 L732.0 359.8 L733.3 360.5 L734.7 361.2 L736.0 361.9 L737.3 362.5 L738.7 363.2 L740.0 363.9 L741.3 364.6 L742.7 365.3 L744.0 366.0 L745.3 366.7 L746.7 367.4 L748.0 368.1 L749.3 368.8 L750.7 369.5 L752.0 370.2 L753.3 370.9 L754.7 371.5 L756.0 372.2 L757.3 372.9 L758.7 373.6 L760.0 374.3 L761.3 375.0 L762.7 375.7 L764.0 376.4 L765.3 377.1 L766.7 377.8 L768.0 378.5 L769.4 379.2 L770.7 379.9 L772.0 380.6 L773.4 381.3 L774.7 382.0 L776.0 382.7 L777.4 383.4 L778.7 384.1 L780.1 384.8 L781.4 385.5 L782.7 386.2 L784.1 386.9 L785.4 387.5 L786.8 388.2 L788.1 388.9 L789.4 389.6 L790.8 390.3 L792.1 391.0 L793.4 391.7 L794.8 392.4 L796.1 393.1 L797.5 393.8 L798.8 394.5 L800.1 395.2 L801.5 395.9 L802.8 396.6 L804.1 397.3 L805.5 398.0 L806.8 398.7 L808.2 399.4 L809.5 400.1 L810.8 400.8 L812.2 401.5 L813.5 402.2 L814.8 402.9 L816.2 403.6 L817.5 404.3 L818.9 405.0 L820.2 405.7 L821.5 406.4 L822.9 407.1 L824.2 407.8 " stroke="#ff0000" stroke-width="1.9" stroke-linecap="butt"/>
<path d="M335.1 123.2 L335.6 121.7 L335.6 82.0 L335.6 121.7 L336.1 123.2" stroke="#ff0000" stroke-width="1.45"/>
<path d="M462.2 203.2 L462.6 201.7 L462.6 185.0 L462.6 201.7 L463.0 203.2" stroke="#ff0000" stroke-width="1.45"/>
<path d="M536.2 248.9 L536.5 248.9 L536.5 241.0 L536.5 248.9 L537.0 250.4" stroke="#ff0000" stroke-width="1.45"/>
<path d="M115.7 241.0 L117.0 241.8 L118.3 242.5 L119.6 243.3 L120.9 244.1 L122.2 244.8 L123.5 245.6 L124.8 246.4 L126.2 247.1 L127.5 247.9 L128.8 248.7 L130.1 249.4 L131.4 250.2 L132.7 251.0 L134.0 251.7 L135.3 252.5 L136.6 253.3 L137.9 254.0 L139.2 254.8 L140.5 255.6 L141.8 256.4 L143.1 257.1 L144.4 257.9 L145.7 258.7 L147.0 259.4 L148.3 260.2 L149.6 261.0 L150.9 261.8 L152.3 262.5 L153.6 263.3 L154.9 264.1 L156.2 264.8 L157.5 265.6 L158.8 266.4 L160.1 267.2 L161.4 267.9 L162.7 268.7 L164.0 269.5 L165.3 270.3 L166.6 271.0 L167.9 271.8 L169.2 272.6 L170.5 273.4 L171.8 274.1 L173.1 274.9 L174.4 275.7 L175.7 276.5 L177.0 277.2 L178.3 278.0 L179.6 278.8 L180.9 279.6 L182.2 280.3 L183.5 281.1 L184.8 281.9 L186.1 282.7 L187.4 283.4 L188.7 284.2 L190.0 285.0 L191.3 285.8 L192.6 286.5 L193.9 287.3 L195.2 288.1 L196.5 288.9 L197.8 289.6 L199.1 290.4 L200.4 291.2 L201.6 291.9 L202.9 292.7 L204.2 293.5 L205.5 294.2 L206.8 295.0 L208.1 295.8 L209.4 296.5 L210.7 297.3 L212.0 298.1 L213.3 298.8 L214.6 299.6 L215.9 300.4 L217.2 301.1 L218.5 301.9 L219.8 302.7 L221.1 303.4 L222.4 304.2 L223.7 305.0 L225.0 305.7 L226.3 306.5 L227.6 307.3 L228.9 308.0 L230.2 308.8 L231.5 309.6 L232.8 310.4 L234.0 311.1 L235.3 311.9 L236.6 312.7 L237.9 313.5 L239.2 314.2 L240.5 315.0 L241.8 315.8 L243.1 316.6 L244.3 317.4 L245.6 318.2 L246.9 319.0 L248.2 319.7 L249.5 320.5 L250.8 321.3 L252.0 322.1 L253.3 322.9 L254.6 323.7 L255.9 324.5 L257.1 325.3 L258.4 326.1 L259.7 326.9 L260.9 327.7 L262.2 328.6 L263.5 329.4 L264.7 330.2 L266.0 331.0 L267.3 331.8 L268.6 332.7 L269.9 333.6 L271.2 334.4 L272.5 335.3 L273.8 336.2 L275.0 337.0 L276.3 337.9 L277.6 338.8 L278.9 339.7 L280.2 340.6 L281.4 341.4 L282.7 342.3 L284.0 343.2 L285.3 344.1 L286.5 345.0 L287.8 345.9 L289.1 346.8 L290.3 347.7 L291.6 348.6 L292.9 349.5 L294.2 350.3 L295.4 351.2 L296.7 352.1 L298.0 353.0 L299.2 353.9 L300.5 354.7 L301.7 355.6 L302.9 356.4 L304.2 357.3 L305.4 358.1 L306.7 359.0 L307.9 359.8 L309.1 360.7 L310.4 361.5 L311.6 362.4 L312.8 363.2 L314.1 364.1 L315.3 364.9 L316.6 365.8 L317.8 366.6 L319.0 367.5 L320.3 368.3 L321.5 369.2 L322.7 370.0 L324.0 370.9 L325.2 371.7 L326.4 372.6 L327.7 373.4 L328.9 374.3 L330.2 375.1 L331.4 376.0 L332.6 376.8 L333.8 377.7 L335.1 378.6 L336.3 379.4 L337.5 380.3 L338.8 381.1 L340.0 382.0 L341.2 382.9 L342.5 383.7 L343.7 384.6 L345.0 385.5 L346.2 386.4 L347.5 387.2 L348.7 388.1 L349.9 389.0 L351.2 389.8 L352.4 390.7 L353.7 391.6 L354.9 392.5 L356.2 393.3 L357.4 394.2 L358.6 395.1 L359.9 396.0 L361.1 396.9 L362.3 397.7 L363.6 398.6 L364.8 399.5 L366.1 400.4 L367.3 401.3 L368.5 402.1 L369.8 403.0 L371.0 403.9 L372.2 404.8 L373.4 405.7 L374.7 406.6 L375.9 407.5 L377.1 408.4 L378.3 409.3 L379.6 410.2 L380.8 411.1 L382.0 412.0 L383.2 412.9 L384.4 413.8 L385.7 414.7 L386.9 415.7 L388.1 416.6 L389.3 417.5 L390.5 418.4 L391.7 419.3 L392.9 420.3 L394.2 421.2 L395.4 422.1 L396.6 423.0 L397.8 424.0 L399.0 424.9 L400.2 425.8 L401.4 426.8 L402.6 427.7 L403.8 428.7 L405.0 429.6 L406.2 430.5 L407.4 431.5 L408.6 432.4 L409.8 433.4 L411.0 434.3 L412.2 435.2 L413.4 436.2 L414.6 437.1 L415.8 438.1 L417.0 439.0 L418.2 440.0 L419.4 440.9 L420.6 441.9 L421.8 442.8 L422.9 443.8 L424.1 444.7 L425.3 445.7 L426.5 446.6 L427.7 447.6 L428.9 448.5 L430.1 449.5 L431.3 450.4 L432.5 451.4 L433.7 452.3 L434.9 453.3 L436.0 454.2 L437.2 455.2 L438.4 456.1 L439.6 457.1 L440.8 458.0 L442.0 459.0 L443.2 460.0 L444.4 460.9 L445.6 461.9 L446.8 462.8 L447.9 463.8 L449.1 464.7 L450.3 465.7 L451.5 466.6 L452.7 467.6 L453.9 468.5 L455.0 469.5 L456.2 470.4 L457.4 471.4 L458.6 472.4 L459.8 473.3 L461.0 474.3 L462.1 475.2 L463.3 476.2 L464.5 477.1 L465.7 478.1 L466.9 479.1 L468.0 480.0 L469.2 481.0 L470.4 482.0 L471.6 482.9 L472.8 483.9 L473.9 484.9 L475.1 485.8 L476.3 486.8 L477.5 487.8 L478.6 488.7 L479.8 489.7 L481.0 490.7 L482.2 491.6 L483.3 492.6 L484.5 493.6 L485.7 494.6 L486.8 495.5 L488.0 496.5 L489.2 497.5 L490.3 498.5 L491.5 499.4 L492.7 500.4 L493.8 501.4 L495.0 502.4 L496.2 503.3 L497.3 504.3 L498.5 505.3 L499.6 506.3 L500.8 507.3 L502.0 508.3 L503.1 509.2 L504.3 510.2 L505.4 511.2 L506.6 512.2 L507.7 513.2 L508.9 514.2 L510.1 515.2 L511.2 516.2 L512.4 517.2 L513.5 518.1 L514.7 519.1 L515.8 520.1 L517.0 521.1 L518.1 522.1 L519.3 523.1 L520.4 524.1 L521.6 525.1 L522.7 526.1 L523.9 527.1 L525.0 528.1 L526.2 529.1 L527.3 530.1 L528.5 531.1 L529.6 532.0 L530.8 533.0 L531.9 534.0 L533.1 535.0 L534.2 536.0 L535.4 537.0 L536.5 538.0 L537.7 539.0 L538.8 540.0 L540.0 541.0 L541.2 542.0 L542.3 543.0 L543.5 544.0 L544.6 545.0 L545.8 546.0 L546.9 547.0 L548.1 548.0 L549.2 549.0 L550.4 549.9 L551.5 550.9 L552.7 551.9 L553.9 552.9 L555.0 553.9 L556.2 554.9 L557.3 555.9 L558.4 557.0 L559.6 558.0 L560.7 559.0 L561.9 560.0 L563.0 561.0 L564.1 562.0 L565.3 563.1 L566.4 564.1 L567.5 565.1 L568.7 566.1 L569.8 567.2 L570.9 568.2 L572.1 569.3 L573.2 570.3 L574.3 571.3 L575.4 572.4 L576.6 573.4 L577.7 574.5 L578.8 575.5 L579.9 576.6 L581.0 577.6 L582.1 578.7 L583.3 579.7 L584.4 580.8 L585.5 581.8 L586.6 582.9 L587.7 583.9 L588.8 585.0 L590.0 586.0 L591.1 587.1 L592.2 588.1 L593.3 589.2 L594.4 590.2 L595.5 591.3 L596.6 592.4 L597.8 593.4 L598.9 594.5 L600.0 595.5 L601.1 596.6 L602.3 597.6 L603.4 598.7 L604.5 599.8 L605.6 600.8 L606.8 601.9 L607.9 603.0 L609.0 604.0 L610.2 605.1 L611.3 606.2 L612.4 607.2 L613.5 608.3 L614.7 609.4 L615.8 610.5 L616.9 611.5 L618.0 612.6 L619.2 613.7 L620.3 614.7 L621.4 615.8 L622.6 616.8 L623.7 617.9 L624.9 618.9 L626.0 620.0 L627.2 621.1 L628.3 622.1 L629.5 623.2 L630.7 624.2 L631.9 625.3 L633.1 626.4 L634.2 627.4 L635.4 628.5 L636.6 629.5 L637.8 630.6 L639.0 631.6 L640.2 632.7 L641.3 633.7 L642.5 634.8 L643.7 635.8 L644.8 636.9 L646.0 638.0 L647.1 639.1 L648.2 640.1 L649.4 641.2 L650.5 642.2 L651.6 643.3 L652.7 644.3 L653.8 645.4 L654.9 646.5 L656.0 647.5 L657.2 648.6 L658.3 649.7 L659.4 650.8 L660.5 651.8 L661.6 652.9 L662.7 654.0 L663.8 655.1 L664.9 656.2 L666.0 657.2 L667.1 658.3 L668.1 659.4 L669.2 660.5 L670.3 661.6 L671.4 662.7 L672.5 663.8 L673.6 664.9 L674.6 666.0 L675.7 667.1 L676.8 668.2 L677.9 669.3 L678.9 670.4 L680.0 671.5 L681.1 672.6 L682.2 673.8 L683.2 674.9 L684.3 676.1 L685.4 677.2 L686.4 678.4 L687.5 679.5 L688.5 680.7 L689.6 681.9 L690.6 683.0 L691.7 684.2 L692.8 685.4 L693.8 686.5 L694.9 687.7 L695.9 688.8 L697.0 690.0 L698.2 691.3 L699.3 692.5 L700.4 693.8 L701.6 695.1 L702.8 696.3 L704.0 697.5 L705.3 698.7 L706.6 699.9 L708.0 701.0 L709.2 701.8 L710.5 702.3 L711.8 702.0 L713.0 701.5 L714.2 700.5 L715.2 699.2 L716.0 697.8 L716.5 696.4 L717.0 694.9 L717.4 693.4 L717.8 691.8 L718.1 690.1 L718.4 688.5 L718.7 686.9 L718.9 685.3 L719.1 683.7 L719.3 682.2 L719.5 680.6 L719.7 679.0 L719.9 677.5 L720.0 675.9 L720.2 674.3 L720.3 672.7 L720.5 671.2 L720.6 669.6 L720.8 668.0 L721.0 666.4 L721.1 664.8 L721.3 663.2 L721.4 661.6 L721.6 660.0" stroke="#0000ff" stroke-width="1.6" stroke-dasharray="11.4 7.9"/>
<path d="M735.6 250.0 L735.7 251.5 L735.8 253.0 L735.9 254.5 L736.0 256.0 L736.1 257.5 L736.1 259.0 L736.2 260.5 L736.3 262.0 L736.4 263.5 L736.4 265.0 L736.5 266.6 L736.6 268.1 L736.7 269.6 L736.7 271.1 L736.8 272.6 L736.9 274.2 L736.9 275.7 L737.0 277.2 L737.0 278.7 L737.1 280.2 L737.2 281.8 L737.2 283.3 L737.3 284.8 L737.4 286.3 L737.4 287.8 L737.5 289.3 L737.5 290.9 L737.6 292.4 L737.7 293.9 L737.7 295.4 L737.8 296.9 L737.8 298.4 L737.9 299.9 L738.0 301.4 L738.0 303.0 L738.1 304.5 L738.2 306.0 L738.2 307.5 L738.3 309.0 L738.4 310.5 L738.4 312.0 L738.5 313.5 L738.6 315.0 L738.7 316.5 L738.8 318.0 L738.8 319.5 L738.9 321.0 L739.0 322.5 L739.1 324.0 L739.2 325.5 L739.3 327.0 L739.3 328.5 L739.4 330.0 L739.5 331.5 L739.6 333.0 L739.7 334.5 L739.8 336.0 L739.9 337.5 L740.0 339.1 L740.1 340.6 L740.2 342.1 L740.3 343.6 L740.3 345.2 L740.4 346.7 L740.5 348.2 L740.6 349.8 L740.7 351.3 L740.8 352.8 L740.9 354.3 L741.0 355.9 L741.2 357.4 L741.3 358.9 L741.4 360.4 L741.5 362.0 L741.7 363.5 L741.8 365.0 L742.0 366.5 L742.1 368.1 L742.3 369.6 L742.5 371.1 L742.7 372.7 L743.0 374.2 L743.2 375.7 L743.4 377.3 L743.7 378.8 L744.0 380.3 L744.2 381.8 L744.5 383.4 L744.7 384.9 L745.0 386.4 L745.2 387.9 L745.5 389.5 L745.7 391.0 L745.9 392.5 L746.1 394.0 L746.4 395.6 L746.6 397.1 L746.8 398.6 L747.0 400.1 L747.2 401.7 L747.4 403.2 L747.6 404.7 L747.9 406.2 L748.1 407.7 L748.3 409.3 L748.5 410.8 L748.7 412.3 L749.0 413.8 L749.2 415.3 L749.5 416.9 L749.7 418.4 L750.0 419.9 L750.2 421.4 L750.5 422.9 L750.8 424.4 L751.1 425.9 L751.4 427.4 L751.7 429.0 L752.1 430.5 L752.4 432.0 L752.8 433.5 L753.1 435.0 L753.5 436.5 L753.8 438.0 L754.2 439.5 L754.6 441.0 L754.9 442.5 L755.3 444.0 L755.7 445.6 L756.0 447.1 L756.4 448.6 L756.8 450.2 L757.2 451.7 L757.6 453.3 L758.0 454.8 L758.3 456.4 L758.7 457.9 L759.1 459.5 L759.5 461.0 L759.9 462.6 L760.3 464.1 L760.7 465.7 L761.1 467.2 L761.5 468.7 L761.9 470.2 L762.2 471.7 L762.6 473.2 L763.0 474.7 L763.4 476.2 L763.7 477.7 L764.1 479.2 L764.5 480.7 L764.9 482.2 L765.3 483.7 L765.6 485.2 L766.0 486.7 L766.4 488.1 L766.8 489.6 L767.2 491.1 L767.6 492.6 L768.1 494.1 L768.5 495.6 L768.9 497.1 L769.4 498.5 L769.8 500.0 L770.3 501.5 L770.8 503.0 L771.2 504.5 L771.7 506.0 L772.3 507.5 L772.8 508.9 L773.3 510.4 L773.9 511.9 L774.4 513.4 L775.0 514.9 L775.5 516.3 L776.1 517.8 L776.6 519.3 L777.2 520.8 L777.7 522.2 L778.3 523.7 L778.9 525.2 L779.4 526.6 L780.0 528.1 L780.5 529.5 L781.1 531.0 L781.6 532.4 L782.2 533.8 L782.8 535.3 L783.3 536.7 L783.9 538.2 L784.5 539.6 L785.1 541.1 L785.7 542.5 L786.2 544.0 L786.8 545.4 L787.4 546.8 L788.0 548.3 L788.6 549.7 L789.2 551.1 L789.8 552.6 L790.4 554.0 L791.0 555.4 L791.6 556.9 L792.2 558.3 L792.8 559.7 L793.4 561.2 L794.0 562.6 L794.6 564.0 L795.2 565.4 L795.8 566.8 L796.4 568.2 L797.0 569.6 L797.6 570.9 L798.2 572.3 L798.8 573.7 L799.4 575.1 L800.0 576.5 L800.6 577.9 L801.3 579.3 L801.9 580.6 L802.5 582.0 L803.1 583.4 L803.8 584.8 L804.4 586.2 L805.0 587.5 L805.7 588.9 L806.3 590.3 L807.0 591.7 L807.6 593.0 L808.3 594.4 L808.9 595.7 L809.6 597.1 L810.3 598.5 L811.0 599.9 L811.7 601.3 L812.4 602.6 L813.1 604.0 L813.8 605.4 L814.5 606.8 L815.2 608.2 L816.0 609.5 L816.7 610.9 L817.4 612.3 L818.2 613.6 L818.9 615.0 L819.6 616.4 L820.4 617.7 L821.1 619.1 L821.9 620.4 L822.7 621.8 L823.4 623.1 L824.2 624.5" stroke="#0000ff" stroke-width="1.6" stroke-dasharray="11.4 7.9" stroke-dashoffset="3.38"/>
<path d="M115.7 276.0 L117.0 276.8 L118.3 277.6 L119.6 278.4 L120.8 279.2 L122.1 280.0 L123.4 280.8 L124.7 281.6 L126.0 282.4 L127.3 283.2 L128.5 284.0 L129.8 284.8 L131.1 285.6 L132.4 286.4 L133.7 287.2 L135.0 288.0 L136.3 288.8 L137.5 289.6 L138.8 290.4 L140.1 291.2 L141.4 292.0 L142.7 292.8 L144.0 293.6 L145.3 294.4 L146.5 295.2 L147.8 296.0 L149.1 296.8 L150.4 297.6 L151.7 298.4 L153.0 299.2 L154.3 300.0 L155.5 300.8 L156.8 301.6 L158.1 302.4 L159.4 303.2 L160.7 304.0 L162.0 304.8 L163.3 305.6 L164.6 306.4 L165.8 307.2 L167.1 308.0 L168.4 308.8 L169.7 309.6 L171.0 310.4 L172.3 311.2 L173.6 312.0 L174.9 312.8 L176.1 313.6 L177.4 314.4 L178.7 315.2 L180.0 316.0 L181.3 316.8 L182.6 317.6 L183.9 318.4 L185.2 319.2 L186.5 320.1 L187.8 320.9 L189.1 321.7 L190.4 322.5 L191.7 323.4 L193.0 324.2 L194.3 325.0 L195.6 325.8 L196.8 326.7 L198.1 327.5 L199.4 328.3 L200.7 329.2 L202.0 330.0 L203.3 330.8 L204.6 331.6 L205.9 332.5 L207.2 333.3 L208.5 334.1 L209.8 334.9 L211.1 335.8 L212.4 336.6 L213.7 337.4 L215.0 338.2 L216.3 339.0 L217.6 339.8 L218.9 340.6 L220.2 341.4 L221.5 342.2 L222.8 343.0 L224.1 343.8 L225.4 344.6 L226.7 345.4 L228.0 346.2 L229.4 347.0 L230.7 347.7 L232.0 348.5 L233.3 349.3 L234.7 350.0 L236.0 350.8 L237.3 351.5 L238.7 352.3 L240.0 353.0 L241.3 353.7 L242.7 354.5 L244.0 355.2 L245.4 355.9 L246.8 356.7 L248.1 357.4 L249.5 358.1 L250.9 358.8 L252.2 359.5 L253.6 360.2 L255.0 360.9 L256.4 361.6 L257.8 362.2 L259.2 362.8 L260.6 363.4 L262.0 364.0 L263.5 364.6 L264.9 365.1 L266.4 365.7 L267.9 366.2 L269.4 366.8 L271.0 367.2 L272.5 367.6 L274.0 368.0 L275.6 368.4 L277.3 368.7 L279.0 369.1 L280.7 369.3 L282.3 369.5 L284.0 369.6 L285.5 369.5 L287.0 369.4 L288.6 369.2 L290.1 368.9 L291.6 368.6 L293.0 368.3 L294.4 367.9 L295.8 367.3 L297.1 366.5 L298.5 365.7 L299.8 364.9 L301.0 364.0 L302.3 363.0 L303.6 362.0 L304.9 360.9 L306.1 359.8 L307.3 358.6 L308.4 357.3 L309.5 356.1 L310.4 354.9 L311.3 353.8 L312.2 352.5 L313.1 351.3 L314.0 350.0 L314.8 348.7 L315.6 347.4 L316.4 346.1 L317.1 344.8 L317.8 343.4 L318.5 342.1 L319.1 340.7 L319.7 339.2 L320.3 337.8 L320.9 336.3 L321.5 334.7 L322.0 333.2 L322.5 331.6 L323.0 330.1 L323.4 328.5 L323.9 327.0 L324.3 325.6 L324.7 324.1 L325.2 322.7 L325.6 321.2 L326.0 319.8 L326.3 318.3 L326.7 316.9 L327.1 315.4 L327.4 313.9 L327.7 312.5 L328.0 311.0 L328.3 309.5 L328.6 308.0 L328.9 306.4 L329.1 304.9 L329.4 303.4 L329.6 301.8 L329.9 300.3 L330.1 298.8 L330.3 297.2 L330.6 295.7 L330.8 294.2 L331.0 292.6 L331.1 291.1 L331.3 289.5 L331.5 288.0 L331.7 286.5 L331.8 284.9 L332.0 283.3 L332.1 281.8 L332.3 280.2 L332.4 278.7 L332.6 277.1 L332.7 275.6 L332.8 274.0 L332.9 272.5 L333.1 270.9 L333.2 269.3 L333.3 267.8 L333.4 266.2 L333.5 264.7 L333.6 263.1 L333.7 261.6 L333.8 260.0 L333.9 258.4 L334.0 256.9 L334.1 255.3 L334.2 253.8 L334.2 252.2 L334.3 250.7 L334.4 249.1 L334.5 247.6 L334.5 246.0 L334.6 244.4 L334.7 242.9 L334.8 241.3 L334.8 239.8 L334.9 238.2 L334.9 236.7 L335.0 235.1 L335.0 233.6 L335.1 232.0 L335.1 230.5 L335.2 228.9 L335.2 227.4 L335.3 225.9 L335.3 224.3 L335.4 222.8 L335.4 221.3 L335.5 219.8 L335.5 218.2 L335.5 216.7 L335.6 215.2 L335.6 213.6 L335.6 212.1 L335.7 210.6 L335.7 209.0 L335.7 207.5" stroke="#0000ff" stroke-width="1.6" stroke-dasharray="20.5 7.7 8.5 7.7"/>
<path d="M335.7 207.5 L335.7 209.0 L335.7 210.6 L335.7 212.1 L335.7 213.6 L335.7 215.2 L335.8 216.7 L335.8 218.2 L335.8 219.8 L335.8 221.3 L335.8 222.8 L335.9 224.3 L335.9 225.9 L335.9 227.4 L335.9 228.9 L336.0 230.5 L336.0 232.0 L336.0 233.5 L336.1 235.1 L336.1 236.6 L336.1 238.2 L336.2 239.7 L336.2 241.2 L336.3 242.8 L336.3 244.3 L336.4 245.8 L336.4 247.4 L336.5 248.9 L336.5 250.5 L336.6 252.0 L336.7 253.5 L336.7 255.1 L336.8 256.6 L336.9 258.1 L337.0 259.7 L337.0 261.2 L337.1 262.7 L337.2 264.3 L337.3 265.8 L337.4 267.3 L337.5 268.9 L337.6 270.4 L337.8 271.9 L337.9 273.4 L338.0 275.0 L338.2 276.5 L338.3 278.0 L338.5 279.5 L338.6 281.1 L338.9 282.6 L339.1 284.2 L339.3 285.7 L339.6 287.3 L339.9 288.8 L340.2 290.3 L340.5 291.9 L340.8 293.4 L341.1 294.9 L341.5 296.4 L341.8 298.0 L342.2 299.5 L342.5 301.0 L342.9 302.5 L343.2 304.0 L343.6 305.6 L344.1 307.1 L344.5 308.6 L344.9 310.1 L345.4 311.6 L345.9 313.1 L346.4 314.6 L346.9 316.1 L347.4 317.6 L347.9 319.1 L348.4 320.5 L349.0 322.0 L349.6 323.5 L350.2 325.0 L350.9 326.4 L351.6 327.9 L352.3 329.3 L353.0 330.8 L353.7 332.2 L354.5 333.7 L355.2 335.1 L356.0 336.5 L356.8 337.9 L357.6 339.4 L358.4 340.8 L359.3 342.2 L360.2 343.6 L361.0 345.0 L361.9 346.4 L362.8 347.8 L363.6 349.1 L364.4 350.4 L365.3 351.6 L366.1 352.9 L366.9 354.2 L367.8 355.5 L368.6 356.7 L369.5 358.0 L370.3 359.2 L371.2 360.5 L372.1 361.8 L373.0 363.1 L373.9 364.4 L374.8 365.7 L375.7 367.0 L376.6 368.3 L377.5 369.6 L378.4 370.9 L379.4 372.1 L380.3 373.4 L381.2 374.7 L382.1 376.0 L383.0 377.3 L383.9 378.6 L384.8 380.0 L385.8 381.3 L386.7 382.7 L387.6 384.0 L388.5 385.3 L389.4 386.7 L390.4 388.0 L391.3 389.3 L392.3 390.6 L393.3 391.9 L394.3 393.2 L395.3 394.4 L396.3 395.7 L397.3 396.9 L398.3 398.1 L399.3 399.3 L400.3 400.4 L401.4 401.6 L402.4 402.8 L403.4 403.9 L404.5 405.1 L405.5 406.3 L406.6 407.4 L407.6 408.6 L408.7 409.7 L409.7 410.9 L410.8 412.0 L411.9 413.2 L413.0 414.4 L414.1 415.6 L415.2 416.7 L416.3 417.9 L417.4 419.1 L418.5 420.3 L419.6 421.5 L420.7 422.6 L421.8 423.8 L422.8 424.9 L423.9 426.0 L424.9 427.1 L426.0 428.2 L427.0 429.3 L428.1 430.4 L429.2 431.5 L430.2 432.6 L431.3 433.7 L432.3 434.8 L433.4 435.9 L434.4 437.0 L435.5 438.1 L436.6 439.2 L437.6 440.3 L438.7 441.4" stroke="#0000ff" stroke-width="1.6" stroke-dasharray="20.5 7.7 8.5 7.7" stroke-dashoffset="17.08"/>
<path d="M721.6 662.0 L721.7 660.4 L721.8 658.8 L721.9 657.3 L721.9 655.7 L722.0 654.1 L722.1 652.5 L722.2 650.9 L722.3 649.3 L722.4 647.8 L722.4 646.2 L722.5 644.6 L722.6 643.0 L722.7 641.4 L722.8 639.9 L722.8 638.3 L722.9 636.8 L723.0 635.2 L723.1 633.7 L723.1 632.1 L723.2 630.6 L723.3 629.0 L723.4 627.4 L723.5 625.9 L723.5 624.3 L723.6 622.8 L723.7 621.2 L723.8 619.7 L723.8 618.1 L723.9 616.6 L724.0 615.0 L724.1 613.5 L724.2 612.0 L724.2 610.5 L724.3 609.0 L724.4 607.5 L724.5 606.0 L724.6 604.5 L724.6 603.0 L724.7 601.5 L724.8 600.0 L724.9 598.5 L725.0 597.0 L725.0 595.5 L725.1 594.0 L725.2 592.5 L725.3 591.0 L725.4 589.5 L725.4 588.0 L725.5 586.5 L725.6 585.0 L725.7 583.5 L725.8 582.0 L725.8 580.5 L725.9 579.0 L726.0 577.5 L726.1 576.0 L726.1 574.5 L726.2 573.0 L726.3 571.5 L726.4 570.0 L726.4 568.5 L726.5 567.0 L726.6 565.5 L726.7 564.0 L726.7 562.5 L726.8 561.0 L726.9 559.5 L727.0 558.0 L727.0 556.5 L727.1 555.0 L727.2 553.5 L727.2 552.0 L727.3 550.4 L727.4 548.9 L727.5 547.4 L727.5 545.9 L727.6 544.3 L727.7 542.8 L727.7 541.3 L727.8 539.8 L727.9 538.3 L727.9 536.7 L728.0 535.2 L728.1 533.7 L728.1 532.2 L728.2 530.7 L728.3 529.1 L728.4 527.6 L728.4 526.1 L728.5 524.6 L728.6 523.0 L728.6 521.5 L728.7 520.0 L728.8 518.5 L728.8 517.0 L728.9 515.5 L729.0 514.0 L729.1 512.5 L729.1 511.0 L729.2 509.5 L729.3 508.0 L729.4 506.5 L729.4 505.0 L729.5 503.5 L729.6 502.0 L729.6 500.5 L729.7 499.0 L729.8 497.5 L729.9 496.0 L729.9 494.5 L730.0 493.0 L730.0 491.5 L730.1 490.0 L730.2 488.4 L730.2 486.9 L730.3 485.3 L730.3 483.8 L730.4 482.2 L730.4 480.6 L730.5 479.1 L730.5 477.5 L730.6 476.0 L730.6 474.4 L730.7 472.9 L730.7 471.3 L730.8 469.7 L730.8 468.2 L730.9 466.6 L730.9 465.1 L731.0 463.5 L731.0 461.9 L731.1 460.4 L731.1 458.8 L731.2 457.3 L731.2 455.7 L731.2 454.2 L731.3 452.7 L731.3 451.1 L731.4 449.6 L731.4 448.1 L731.4 446.6 L731.5 445.0 L731.5 443.5 L731.6 442.0 L731.6 440.5 L731.6 438.9 L731.7 437.4 L731.7 435.9 L731.8 434.4 L731.8 432.8 L731.8 431.3 L731.9 429.8 L731.9 428.3 L731.9 426.8 L732.0 425.2 L732.0 423.7 L732.1 422.2 L732.1 420.7 L732.1 419.1 L732.2 417.6 L732.2 416.1 L732.2 414.6 L732.3 413.0 L732.3 411.5 L732.3 410.0 L732.4 408.5 L732.4 406.9 L732.4 405.4 L732.5 403.9 L732.5 402.4 L732.5 400.8 L732.6 399.3 L732.6 397.8 L732.6 396.3 L732.7 394.8 L732.7 393.3 L732.7 391.8 L732.8 390.3 L732.8 388.8 L732.8 387.3 L732.9 385.7 L732.9 384.2 L732.9 382.7 L733.0 381.2 L733.0 379.7 L733.0 378.2 L733.1 376.7 L733.1 375.2 L733.1 373.7 L733.1 372.2 L733.2 370.7 L733.2 369.2 L733.2 367.7 L733.3 366.2 L733.3 364.7 L733.3 363.1 L733.4 361.6 L733.4 360.1 L733.4 358.6 L733.4 357.1 L733.5 355.6 L733.5 354.1 L733.5 352.6 L733.6 351.1 L733.6 349.6 L733.6 348.1 L733.6 346.6 L733.7 345.1 L733.7 343.6 L733.7 342.1 L733.7 340.5 L733.8 339.0 L733.8 337.5 L733.8 336.0 L733.8 334.5 L733.9 333.0 L733.9 331.5 L733.9 330.0 L733.9 328.5 L733.9 327.0 L734.0 325.5 L734.0 324.0 L734.0 322.5 L734.0 321.0 L734.0 319.5 L734.1 318.0 L734.1 316.5 L734.1 315.0 L734.1 313.5 L734.1 312.0 L734.2 310.5 L734.2 309.0 L734.2 307.5 L734.2 306.0 L734.2 304.5 L734.3 303.0 L734.3 301.5 L734.3 300.0 L734.3 298.5 L734.3 297.0 L734.3 295.5 L734.4 294.0 L734.4 292.5 L734.4 291.0 L734.4 289.5 L734.4 288.0 L734.5 286.5 L734.5 285.0 L734.5 283.5 L734.5 282.0 L734.5 280.5 L734.5 279.0 L734.5 277.5 L734.6 276.0 L734.6 274.5 L734.6 273.0 L734.6 271.5 L734.6 270.0 L734.6 268.5 L734.6 267.0 L734.7 265.5 L734.7 264.0 L734.7 262.5 L734.7 261.0 L734.7 259.5 L734.7 258.0 L734.7 256.5 L734.7 255.0 L734.8 253.5 L734.8 252.0 L734.8 250.5 L734.8 249.0 L734.8 247.5 L734.8 246.0 L734.8 244.5 L734.8 243.0 L734.8 241.5 L734.9 240.0 L734.9 238.5 L734.9 237.0 L734.9 235.4 L734.9 233.9 L734.9 232.4 L734.9 230.9 L734.9 229.3 L734.9 227.8 L734.9 226.3 L734.9 224.8 L734.9 223.3 L735.0 221.7 L735.0 220.2 L735.0 218.7 L735.0 217.2 L735.0 215.7 L735.0 214.1 L735.0 212.6 L735.0 211.1 L735.0 209.6 L735.0 208.0 L735.0 206.5 L735.0 205.0 L735.0 203.5 L735.1 202.0 L735.1 200.4 L735.1 198.9 L735.1 197.4 L735.1 195.9 L735.1 194.4 L735.1 192.8 L735.1 191.3 L735.1 189.8 L735.1 188.3 L735.1 186.7 L735.1 185.2 L735.1 183.7 L735.1 182.2 L735.1 180.7 L735.1 179.1 L735.1 177.6 L735.2 176.1 L735.2 174.6 L735.2 173.0 L735.2 171.5 L735.2 170.0 L735.2 168.5 L735.2 167.0 L735.2 165.4 L735.2 163.9 L735.2 162.4 L735.2 160.9 L735.2 159.4 L735.2 157.8 L735.2 156.3 L735.2 154.8 L735.2 153.3 L735.2 151.7 L735.2 150.2 L735.2 148.7" stroke="#0000ff" stroke-width="1.6" stroke-dasharray="16 3.7" stroke-dashoffset="14.64"/>
<path d="M735.2 148.7 L735.2 150.2 L735.2 151.7 L735.2 153.3 L735.2 154.8 L735.2 156.3 L735.2 157.8 L735.2 159.4 L735.2 160.9 L735.2 162.4 L735.2 163.9 L735.2 165.4 L735.2 167.0 L735.2 168.5 L735.2 170.0 L735.2 171.5 L735.2 173.0 L735.3 174.6 L735.3 176.1 L735.3 177.6 L735.3 179.1 L735.3 180.7 L735.3 182.2 L735.3 183.7 L735.3 185.2 L735.3 186.7 L735.3 188.3 L735.3 189.8 L735.3 191.3 L735.3 192.8 L735.3 194.4 L735.3 195.9 L735.3 197.4 L735.3 198.9 L735.4 200.4 L735.4 202.0 L735.4 203.5 L735.4 205.0 L735.4 206.5 L735.4 208.0 L735.4 209.6 L735.4 211.1 L735.4 212.6 L735.4 214.1 L735.4 215.7 L735.4 217.2 L735.4 218.7 L735.4 220.2 L735.5 221.7 L735.5 223.3 L735.5 224.8 L735.5 226.3 L735.5 227.8 L735.5 229.3 L735.5 230.9 L735.5 232.4 L735.5 233.9 L735.5 235.4 L735.5 237.0 L735.5 238.5 L735.5 240.0 L735.6 241.5 L735.6 243.0 L735.6 244.5 L735.6 246.0 L735.6 247.5 L735.6 249.0 L735.6 250.5 L735.6 252.0 L735.6 253.5 L735.6 255.0 L735.7 256.5 L735.7 258.0 L735.7 259.5 L735.7 261.0 L735.7 262.5 L735.7 264.0 L735.7 265.5 L735.7 267.0 L735.7 268.5 L735.8 270.0 L735.8 271.5 L735.8 273.0 L735.8 274.5 L735.8 276.0 L735.8 277.5 L735.8 279.0 L735.9 280.5 L735.9 282.0 L735.9 283.5 L735.9 285.0 L735.9 286.5 L735.9 288.0 L735.9 289.5 L736.0 291.0 L736.0 292.5 L736.0 294.0 L736.0 295.5 L736.0 297.0 L736.0 298.5 L736.1 300.0 L736.1 301.5 L736.1 303.0 L736.1 304.5 L736.1 306.0 L736.1 307.5 L736.2 309.0 L736.2 310.5 L736.2 312.0 L736.2 313.5 L736.2 315.0 L736.2 316.5 L736.3 318.0 L736.3 319.5 L736.3 321.0 L736.3 322.5 L736.3 324.0 L736.3 325.5 L736.4 327.0 L736.4 328.5 L736.4 330.0 L736.4 331.5 L736.4 333.0 L736.5 334.5 L736.5 336.0 L736.5 337.5 L736.5 339.0 L736.5 340.5 L736.6 342.0 L736.6 343.5 L736.6 345.0 L736.6 346.5 L736.6 348.0 L736.7 349.5 L736.7 351.0 L736.7 352.5 L736.7 354.0 L736.7 355.5 L736.8 357.0 L736.8 358.5 L736.8 360.0 L736.8 361.5 L736.9 363.0 L736.9 364.5 L736.9 366.0 L736.9 367.5 L737.0 369.0 L737.0 370.5 L737.0 372.0 L737.0 373.5 L737.1 375.0 L737.1 376.5 L737.1 378.0 L737.2 379.5 L737.2 381.0 L737.2 382.5 L737.3 384.0 L737.3 385.5 L737.3 387.0 L737.4 388.5 L737.4 390.0 L737.4 391.5 L737.5 393.0 L737.5 394.5 L737.6 396.0 L737.6 397.5 L737.7 399.0 L737.7 400.5 L737.8 402.0 L737.9 403.5 L737.9 405.0 L738.0 406.5 L738.0 408.0 L738.1 409.5 L738.2 411.0 L738.2 412.5 L738.3 414.0 L738.4 415.5 L738.5 417.0 L738.5 418.5 L738.6 420.0" stroke="#0000ff" stroke-width="1.6" stroke-dasharray="16 3.7"/>
<path d="M115.7 271.0 L117.0 271.8 L118.3 272.6 L119.6 273.4 L120.8 274.1 L122.1 274.9 L123.4 275.7 L124.7 276.5 L126.0 277.3 L127.3 278.1 L128.6 278.9 L129.8 279.6 L131.1 280.4 L132.4 281.2 L133.7 282.0 L135.0 282.8 L136.3 283.6 L137.6 284.4 L138.8 285.1 L140.1 285.9 L141.4 286.7 L142.7 287.5 L144.0 288.3 L145.3 289.1 L146.6 289.9 L147.9 290.6 L149.1 291.4 L150.4 292.2 L151.7 293.0 L153.0 293.8 L154.3 294.6 L155.6 295.4 L156.9 296.1 L158.1 296.9 L159.4 297.7 L160.7 298.5 L162.0 299.3 L163.3 300.1 L164.6 300.9 L165.9 301.7 L167.1 302.4 L168.4 303.2 L169.7 304.0 L171.0 304.8 L172.3 305.6 L173.6 306.4 L174.9 307.2 L176.1 307.9 L177.4 308.7 L178.7 309.5 L180.0 310.3 L181.3 311.1 L182.6 311.9 L183.9 312.7 L185.2 313.5 L186.5 314.3 L187.8 315.1 L189.1 315.9 L190.4 316.8 L191.7 317.6 L193.0 318.4 L194.3 319.2 L195.6 320.0 L196.9 320.8 L198.2 321.7 L199.5 322.5 L200.8 323.3 L202.0 324.1 L203.3 324.9 L204.6 325.7 L205.9 326.6 L207.2 327.4 L208.5 328.2 L209.8 329.0 L211.1 329.8 L212.4 330.6 L213.7 331.4 L215.0 332.3 L216.3 333.1 L217.6 333.9 L218.9 334.7 L220.2 335.5 L221.5 336.3 L222.8 337.1 L224.1 337.8 L225.4 338.6 L226.8 339.4 L228.1 340.2 L229.4 341.0 L230.7 341.7 L232.0 342.5 L233.3 343.3 L234.7 344.0 L236.0 344.8 L237.3 345.5 L238.7 346.3 L240.0 347.0 L241.4 347.8 L242.9 348.6 L244.3 349.4 L245.7 350.2 L247.2 351.0 L248.6 351.7 L250.1 352.5 L251.5 353.2 L253.0 353.9 L254.5 354.6 L256.0 355.2 L257.4 355.7 L258.8 356.3 L260.2 356.7 L261.7 357.2 L263.1 357.7 L264.6 358.1 L266.0 358.6 L267.5 359.1 L269.0 359.6 L270.5 360.2 L272.0 360.7 L273.5 361.1 L275.0 361.5 L276.5 361.8 L278.0 362.2 L279.5 362.5 L281.0 362.8 L282.5 362.9 L284.0 363.0 L285.6 362.9 L287.2 362.8 L288.8 362.6 L290.4 362.3 L292.0 362.0 L293.7 361.6 L295.3 360.9 L296.9 360.2 L298.5 359.3 L300.0 358.5 L301.4 357.7 L302.8 356.9 L304.2 356.1 L305.5 355.2 L306.6 354.2 L307.6 353.2 L308.5 352.1 L309.4 350.9 L310.3 349.7 L311.1 348.4 L311.9 347.0 L312.7 345.7 L313.4 344.3 L314.2 342.9 L314.9 341.5 L315.5 340.2 L316.2 338.8 L316.9 337.4 L317.6 335.9 L318.2 334.5 L318.9 333.0 L319.5 331.5 L320.1 330.1 L320.7 328.6 L321.3 327.1 L321.9 325.6 L322.4 324.0 L322.9 322.5 L323.4 321.0 L323.9 319.5 L324.4 318.0 L324.8 316.5 L325.3 315.0 L325.7 313.4 L326.1 311.9 L326.5 310.4 L326.9 308.8 L327.3 307.3 L327.7 305.7 L328.1 304.2 L328.4 302.6 L328.8 301.1 L329.1 299.5 L329.4 298.0 L329.7 296.4 L330.0 294.9 L330.2 293.5 L330.5 292.0 L330.8 290.5 L331.0 289.0 L331.3 287.5 L331.5 286.0 L331.7 284.6 L331.9 283.1 L332.1 281.6 L332.3 280.1 L332.5 278.6 L332.6 277.1 L332.7 275.6 L332.9 274.1 L333.0 272.6 L333.1 271.0 L333.2 269.5 L333.4 268.0 L333.5 266.5 L333.6 265.0 L333.7 263.4 L333.8 261.9 L333.9 260.4 L333.9 258.9 L334.0 257.3 L334.1 255.8 L334.2 254.3 L334.3 252.8 L334.3 251.2 L334.4 249.7 L334.5 248.2 L334.6 246.6 L334.6 245.1 L334.7 243.5 L334.8 242.0 L334.9 240.4 L334.9 238.9 L335.0 237.3 L335.0 235.8 L335.1 234.2 L335.2 232.7 L335.2 231.1 M336.2 231.1 L336.3 232.7 L336.3 234.2 L336.4 235.8 L336.4 237.3 L336.5 238.9 L336.6 240.4 L336.7 242.0 L336.7 243.5 L336.8 245.1 L336.9 246.6 L337.0 248.2 L337.1 249.7 L337.2 251.2 L337.3 252.8 L337.4 254.3 L337.5 255.8 L337.6 257.4 L337.7 258.9 L337.8 260.4 L337.9 261.9 L338.0 263.5 L338.1 265.0 L338.2 266.5 L338.4 268.0 L338.5 269.5 L338.7 271.1 L338.8 272.6 L339.0 274.1 L339.1 275.6 L339.3 277.1 L339.5 278.7 L339.7 280.2 L340.0 281.8 L340.3 283.3 L340.5 284.9 L340.9 286.4 L341.2 287.9 L341.5 289.5 L341.9 291.0 L342.3 292.6 L342.7 294.1 L343.0 295.6 L343.4 297.2 L343.8 298.7 L344.2 300.2 L344.6 301.7 L345.0 303.3 L345.4 304.8 L345.9 306.3 L346.3 307.9 L346.8 309.4 L347.2 310.9 L347.7 312.4 L348.2 313.9 L348.7 315.5 L349.2 317.0 L349.8 318.4 L350.3 319.9 L350.9 321.4 L351.5 322.8 L352.1 324.2 L352.7 325.6 L353.3 327.0 L354.0 328.4 L354.6 329.8 L355.3 331.2 L356.0 332.6 L356.8 334.0 L357.5 335.3 L358.2 336.7 L359.0 338.0 L359.7 339.4 L360.5 340.7 L361.3 342.1 L362.1 343.4 L363.0 344.8 L363.8 346.2 L364.7 347.5 L365.6 348.8 L366.5 350.2 L367.4 351.5 L368.3 352.8 L369.3 354.1 L370.2 355.4 L371.1 356.7 L372.1 358.0 L373.0 359.2 L374.0 360.4 L375.0 361.7 L376.0 362.8 L377.0 364.0 L378.0 365.2 L379.0 366.4 L380.0 367.6 L381.0 368.8 L382.0 370.0 L383.0 371.2 L383.9 372.5 L384.9 373.7 L385.8 375.0 L386.8 376.2 L387.7 377.5 L388.6 378.7 L389.5 380.0 L390.5 381.3 L391.4 382.5 L392.3 383.8 L393.2 385.1 L394.2 386.3 L395.1 387.6 L396.1 388.8 L397.0 390.0 L398.0 391.2 L399.0 392.5 L400.0 393.7 L401.0 394.8 L402.0 396.0 L403.0 397.2 L404.1 398.3 L405.1 399.5 L406.2 400.6 L407.2 401.8 L408.3 402.9 L409.4 404.0 L410.5 405.2 L411.6 406.3 L412.7 407.4 L413.8 408.5 L414.9 409.5 L416.1 410.6 L417.2 411.6 L418.4 412.6 L419.6 413.6 L420.8 414.6 L422.0 415.5 L423.2 416.4 L424.5 417.4 L425.8 418.3 L427.1 419.2 L428.5 420.1 L429.8 420.9 L431.2 421.7 L432.6 422.4 L434.0 423.0 L435.4 423.6 L436.9 424.2 L438.4 424.7 L440.0 425.2 L441.5 425.5 L443.0 425.6 L444.6 425.4 L446.2 424.9 L447.7 424.2 L449.0 423.5 L450.3 422.5 L451.5 421.1 L452.6 419.5 L453.5 418.0 L454.2 416.6 L454.9 415.2 L455.6 413.7 L456.2 412.2 L456.7 410.7 L457.2 409.1 L457.6 407.5 L458.0 406.0 L458.3 404.5 L458.6 403.1 L458.8 401.6 L459.1 400.1 L459.3 398.6 L459.5 397.1 L459.7 395.6 L459.9 394.0 L460.1 392.5 L460.2 391.0 L460.4 389.5 L460.5 388.0 L460.6 386.5 L460.7 384.9 L460.8 383.4 L460.9 381.9 L461.0 380.3 L461.1 378.8 L461.2 377.3 L461.3 375.7 L461.4 374.2 L461.5 372.7 L461.5 371.1 L461.6 369.6 L461.7 368.1 L461.7 366.5 L461.8 365.0 L461.9 363.5 L461.9 361.9 L462.0 360.4 L462.0 358.9 L462.1 357.4 L462.1 355.8 M463.0 355.8 L463.0 357.4 L463.1 358.9 L463.1 360.4 L463.2 361.9 L463.2 363.5 L463.3 365.0 L463.4 366.5 L463.4 368.1 L463.5 369.6 L463.6 371.2 L463.7 372.7 L463.8 374.3 L463.9 375.8 L464.0 377.4 L464.1 378.9 L464.3 380.5 L464.4 382.0 L464.5 383.5 L464.7 385.0 L464.9 386.5 L465.1 388.0 L465.3 389.5 L465.5 391.0 L465.7 392.5 L465.9 394.0 L466.2 395.5 L466.4 397.0 L466.7 398.5 L467.0 400.0 L467.3 401.6 L467.7 403.2 L468.1 404.7 L468.5 406.3 L469.0 407.9 L469.4 409.4 L469.9 411.0 L470.5 412.5 L471.0 414.0 L471.6 415.4 L472.1 416.9 L472.8 418.3 L473.4 419.7 L474.1 421.1 L474.8 422.5 L475.6 423.9 L476.3 425.3 L477.1 426.7 L477.9 428.1 L478.7 429.4 L479.5 430.8 L480.4 432.1 L481.2 433.5 L482.0 434.8 L482.8 436.1 L483.7 437.4 L484.6 438.7 L485.5 440.0 L486.4 441.3 L487.3 442.5 L488.3 443.8 L489.2 445.1 L490.2 446.3 L491.1 447.6 L492.1 448.8 L493.1 450.0 L494.0 451.3 L495.0 452.6 L495.9 453.9 L496.9 455.2 L497.9 456.5 L498.9 457.8 L499.8 459.1 L500.8 460.4 L501.8 461.7 L502.8 462.9 L503.9 464.2 L504.9 465.4 L506.0 466.6 L507.0 467.7 L508.0 468.8 L509.1 470.0 L510.1 471.1 L511.2 472.2 L512.3 473.3 L513.4 474.3 L514.5 475.3 L515.6 476.3 L516.8 477.2 L518.0 478.0 L519.4 478.9 L520.9 479.9 L522.4 480.9 L524.0 481.7 L525.5 482.2 L527.0 482.4 L528.4 482.0 L529.8 481.1 L531.0 480.0 L532.1 478.6 L533.0 476.8 L533.6 475.0 L533.9 473.6 L534.2 472.1 L534.5 470.6 L534.7 469.1 L534.9 467.6 L535.1 466.1 L535.2 464.6 L535.4 463.0 L535.5 461.5 L535.6 460.0 L535.7 458.5 L535.8 457.0 L535.9 455.5 L536.0 454.0 L536.0 452.5 L536.1 451.0 L536.1 449.5 M537.0 448.0 L537.1 449.6 L537.1 451.1 L537.2 452.7 L537.3 454.2 L537.4 455.8 L537.6 457.4 L537.7 458.9 L537.8 460.5 L538.0 462.0 L538.2 463.6 L538.4 465.1 L538.7 466.7 L539.0 468.3 L539.4 469.9 L539.8 471.4 L540.2 473.0 L540.6 474.5 L541.0 476.0 L541.5 477.5 L542.0 479.0 L542.5 480.5 L543.1 482.0 L543.8 483.4 L544.4 484.9 L545.1 486.3 L545.8 487.8 L546.5 489.2 L547.3 490.6 L548.0 492.0 L548.8 493.4 L549.6 494.9 L550.5 496.3 L551.3 497.7 L552.2 499.1 L553.2 500.4 L554.1 501.8 L555.0 503.2 L556.0 504.5 L556.9 505.8 L557.9 507.1 L558.8 508.4 L559.8 509.6 L560.8 510.9 L561.8 512.2 L562.8 513.4 L563.9 514.6 L564.9 515.8 L566.0 517.0 L567.0 518.1 L568.1 519.3 L569.2 520.4 L570.2 521.5 L571.3 522.6 L572.5 523.6 L573.6 524.6 L574.8 525.6 L576.0 526.5 L577.3 527.5 L578.7 528.6 L580.1 529.5 L581.6 530.2 L583.0 530.5 L584.7 529.9 L586.0 528.8 L586.9 527.3 L587.6 525.4 L588.0 523.5 L588.2 522.0 L588.4 520.4 L588.5 518.8 L588.6 517.2 L588.7 515.6 L588.8 514.0 L588.9 512.5 M589.6 512.5 L589.7 514.0 L589.8 515.5 L589.9 517.0 L590.0 518.5 L590.1 520.0 L590.3 521.5 L590.4 523.0 L590.6 524.5 L590.8 526.0 L591.1 527.7 L591.6 529.4 L592.1 531.1 L592.7 532.7 L593.3 534.4 L594.0 536.0 L594.6 537.4 L595.3 538.8 L596.0 540.3 L596.7 541.6 L597.5 543.0 L598.3 544.4 L599.2 545.7 L600.0 547.0 L600.9 548.3 L601.7 549.6 L602.6 550.8 L603.5 552.1 L604.5 553.4 L605.4 554.6 L606.4 555.9 L607.4 557.1 L608.4 558.3 L609.4 559.5 L610.5 560.6 L611.6 561.8 L612.6 562.9 L613.7 563.9 L614.9 565.0 L616.0 566.0 L617.2 567.0 L618.5 568.1 L619.8 569.1 L621.2 570.0 L622.6 570.8 L624.0 571.5 L625.6 572.1 L627.0 572.4 L628.2 571.5 L629.0 570.0 L629.3 568.6 L629.5 567.1 L629.7 565.5 L629.8 564.0 L629.9 562.5 M630.6 563.3 L630.7 565.0 L630.8 566.5 L631.0 568.1 L631.2 569.6 L631.4 571.1 L631.7 572.6 L632.0 574.0 L632.5 575.5 L633.3 576.9 L634.1 578.3 L635.1 579.6 L636.0 581.0 L636.8 582.3 L637.7 583.5 L638.5 584.8 L639.4 586.0 L640.3 587.2 L641.2 588.4 L642.1 589.6 L643.1 590.8 L644.0 592.0 L644.9 593.2 L645.9 594.4 L646.9 595.6 L647.8 596.8 L648.8 597.9 L649.8 599.1 L650.8 600.2 L651.9 601.4 L652.9 602.4 L654.0 603.5 L655.1 604.7 L656.3 606.0 L657.5 607.2 L658.7 608.1 L660.0 608.4 L661.2 608.1 L662.2 607.4 L662.7 606.1 L663.0 604.5 L663.3 602.8 L663.4 601.0 L663.5 602.7 L663.7 604.3 L663.9 606.0 L664.1 607.5 L664.3 609.1 L664.6 610.6 L665.0 612.0 L665.6 613.5 L666.6 614.9 L667.7 616.3 L668.9 617.7 L670.0 619.0 L671.0 620.2 L672.0 621.4 L673.0 622.5 L674.0 623.7 L675.0 624.8 L676.0 626.0 L677.0 627.2 L678.0 628.5 L678.9 629.8 L679.9 631.1 L680.9 632.4 L681.8 633.7 L682.8 635.0 L683.8 636.2 L684.9 637.4 L686.0 638.5 L687.7 640.3 L689.5 641.3 L690.3 640.8 L691.0 640.0 L691.5 638.7 L691.7 637.0 L691.8 638.5 L692.0 640.0 L692.3 641.5 L692.7 643.0 L693.3 644.6 L694.0 646.0 L694.8 647.3 L695.7 648.6 L696.7 649.9 L697.8 651.1 L698.9 652.3 L700.0 653.5 L701.1 654.8 L702.2 656.1 L703.3 657.5 L704.5 658.8 L705.7 659.9 L706.9 660.7 L708.3 661.2 L710.1 661.5 L712.0 661.6 L714.0 661.5 L715.6 661.2 L716.1 660.5 L716.5 659.3 L716.7 660.8 L717.2 661.8 L718.0 662.2 L718.9 662.4 L719.7 661.7 L720.3 660.0 L720.8 658.3 L721.2 656.7 L721.6 655.1 L721.9 653.4 L722.1 651.7 L722.4 650.1 L722.6 648.4 L722.8 646.7 L723.0 645.1 L723.2 643.5 L723.4 641.9 L723.5 640.3 L723.7 638.7 L723.9 637.1 L724.0 635.5 L724.2 633.9 L724.3 632.3 L724.4 630.7 L724.6 629.1 L724.7 627.5 L724.8 626.0 L724.9 624.5 L725.0 622.9 L725.2 621.4 L725.3 619.9 L725.4 618.4 L725.5 616.9 L725.6 615.3 L725.6 613.8 L725.7 612.3 L725.8 610.8 L725.9 609.3 L726.0 607.7 L726.1 606.2 L726.2 604.7 L726.3 603.2 L726.4 601.6 L726.5 600.1 L726.6 598.6 L726.7 597.1 L726.8 595.5 L726.9 594.0 L727.0 592.5 L727.1 591.0 L727.2 589.4 L727.4 587.9 L727.5 586.4 L727.6 584.9 L727.7 583.3 L727.8 581.8 L727.9 580.3 L728.0 578.8 L728.1 577.2 L728.2 575.7 L728.3 574.2 L728.4 572.7 L728.5 571.1 L728.6 569.6 L728.7 568.1 L728.8 566.5 L728.9 565.0 L728.9 563.4 L729.0 561.9 L729.1 560.3 L729.2 558.8 L729.3 557.3 L729.3 555.7 L729.4 554.2 L729.5 552.6 L729.5 551.1 L729.6 549.5 L729.7 548.0 L729.8 546.4 L729.8 544.9 L729.9 543.4 L730.0 541.8 L730.1 540.3 L730.1 538.7 L730.2 537.2 L730.3 535.6 L730.3 534.1 L730.4 532.5 L730.5 531.0 L730.6 529.4 L730.7 527.9 L730.7 526.4 L730.8 524.8 L730.9 523.3 L731.0 521.7 L731.1 520.2 L731.2 518.6 L731.3 517.1 L731.4 515.5 L731.5 514.0 L731.5 512.4 L731.6 510.9 L731.7 509.3 L731.8 507.8 L731.9 506.2 L731.9 504.7 L732.0 503.1 L732.0 501.6 L732.1 500.0 L732.1 498.5 L732.2 497.0 L732.2 495.5 L732.3 494.0 L732.3 492.5 L732.4 491.0 L732.4 489.5 L732.4 488.0 L732.5 486.5 L732.5 485.0 L732.5 483.5 L732.6 482.0 L732.6 480.5 L732.6 479.0 L732.6 477.5 L732.7 476.0 L732.7 474.5 L732.7 473.0 L732.8 471.5 L732.8 470.0 L732.8 468.5 L732.8 467.0 L732.9 465.5 L732.9 464.0 L732.9 462.5 L733.0 461.0 L733.0 459.5 L733.0 458.0 L733.1 456.5 L733.1 455.0 L733.1 453.5 L733.2 452.0 L733.2 450.4 L733.3 448.9 L733.3 447.4 L733.3 445.9 L733.4 444.4 L733.4 442.8 L733.5 441.3 L733.5 439.8 L733.6 438.3 L733.6 436.8 L733.7 435.2 L733.7 433.7 L733.8 432.2 L733.8 430.7 L733.8 429.2 L733.9 427.6 L733.9 426.1 L734.0 424.6 L734.0 423.1 L734.0 421.6 L734.0 420.0 L734.1 418.5 L734.1 417.0 L734.1 415.5 L734.1 414.0 L734.2 412.5 L734.2 411.0 L734.2 409.5 L734.2 408.0 L734.2 406.5 L734.3 405.0 L734.3 403.5 L734.3 402.0 L734.3 400.5 L734.3 399.0 L734.4 397.5 L734.4 396.0 L734.4 394.5 L734.4 393.0 L734.4 391.5 L734.4 390.0 L734.5 388.5 L734.5 387.0 L734.5 385.5 L734.5 384.0 L734.5 382.5 L734.5 381.0 L734.5 379.5 L734.6 378.0 L734.6 376.5 L734.6 375.0 L734.6 373.5 L734.6 372.0 L734.6 370.5 L734.6 369.0 L734.6 367.5 L734.7 366.0 L734.7 364.5 L734.7 363.0 L734.7 361.5 L734.7 360.0 L734.7 358.5 L734.7 357.0 L734.7 355.4 L734.7 353.9 L734.8 352.4 L734.8 350.9 L734.8 349.3 L734.8 347.8 L734.8 346.3 L734.8 344.8 L734.8 343.3 L734.8 341.7 L734.8 340.2 M735.8 341.0 L735.8 342.5 L735.8 344.0 L735.8 345.5 L735.9 347.0 L735.9 348.5 L735.9 350.0 L735.9 351.5 L735.9 353.0 L735.9 354.5 L736.0 356.0 L736.0 357.5 L736.0 359.0 L736.0 360.5 L736.1 362.0 L736.1 363.5 L736.1 365.0 L736.2 366.5 L736.2 368.0 L736.3 369.5 L736.4 371.0 L736.4 372.5 L736.5 374.0 L736.6 375.5 L736.7 377.0 L736.8 378.5 L736.9 380.0 L737.0 381.5 L737.0 383.0 L737.1 384.5 L737.2 386.0 L737.3 387.5 L737.4 389.0 L737.5 390.5 L737.6 392.0 L737.7 393.5 L737.8 395.0 L737.9 396.5 L738.0 398.0 L738.1 399.5 L738.2 401.1 L738.3 402.6 L738.4 404.1 L738.5 405.7 L738.6 407.2 L738.7 408.8 L738.8 410.3 L738.9 411.8 L739.0 413.4 L739.1 414.9 L739.2 416.4 L739.3 418.0 L739.4 419.5 L739.5 421.1 L739.6 422.6 L739.8 424.1 L739.9 425.7 L740.0 427.2 L740.1 428.7 L740.3 430.3 L740.4 431.8 L740.5 433.3 L740.7 434.9 L740.8 436.4 L740.9 437.9 L741.1 439.5 L741.3 441.0 L741.4 442.6 L741.6 444.1 L741.7 445.7 L741.9 447.2 L742.1 448.8 L742.3 450.3 L742.5 451.8 L742.7 453.4 L742.9 454.9 L743.1 456.5 L743.3 458.0 L743.5 459.5 L743.7 461.1 L744.0 462.6 L744.2 464.1 L744.4 465.7 L744.7 467.2 L745.0 468.8 L745.3 470.3 L745.6 471.9 L746.0 473.5 L746.4 475.0 L746.8 476.5 L747.4 478.3 L748.0 479.3 L748.7 478.1 L749.3 476.0 L749.6 474.5 L749.8 473.0 L750.0 471.4 L750.2 469.9 L750.4 468.3 L750.6 466.7 L750.7 465.2 L750.8 463.6 L751.0 462.0 L751.1 460.4 L751.2 458.8 L751.3 457.3 L751.4 455.7 L751.5 454.2 L751.6 452.6 L751.7 451.1 L751.8 449.5 L751.9 448.0 L752.0 446.4 L752.1 444.9 L752.2 443.3 L752.3 441.8 L752.3 440.2 L752.4 438.7 L752.5 437.1 L752.6 435.6 L752.7 434.0 L752.7 432.5 L752.8 430.9 L752.9 429.4 L752.9 427.8 L753.0 426.3 L753.1 424.7 L753.1 423.2 L753.2 421.6 L753.3 420.1 L753.3 418.5 L753.4 417.0 L753.5 415.5 L753.5 414.0 L753.6 412.4 L753.6 410.9 L753.7 409.4 L753.8 407.9 L753.8 406.3 L753.9 404.8 L753.9 403.3 L754.0 401.8 L754.0 400.2 L754.1 398.7 L754.1 397.2 L754.2 395.7 L754.2 394.1 L754.3 392.6 L754.3 391.1 L754.4 389.6 L754.4 388.0 L754.5 386.5 L754.5 385.0 L754.5 383.4 M755.5 383.4 L755.5 385.0 L755.6 386.5 L755.6 388.0 L755.7 389.5 L755.8 391.0 L755.9 392.5 L755.9 394.0 L756.0 395.5 L756.1 397.0 L756.2 398.5 L756.3 400.0 L756.4 401.5 L756.5 403.1 L756.6 404.6 L756.6 406.2 L756.7 407.7 L756.8 409.3 L756.9 410.8 L757.0 412.4 L757.0 413.9 L757.1 415.5 L757.2 417.0 L757.3 418.6 L757.4 420.1 L757.5 421.7 L757.6 423.2 L757.7 424.8 L757.8 426.3 L757.9 427.9 L758.0 429.4 L758.1 431.0 L758.2 432.5 L758.3 434.0 L758.4 435.5 L758.6 437.0 L758.7 438.5 L758.8 440.0 L759.0 441.5 L759.1 443.0 L759.3 444.5 L759.4 446.0 L759.6 447.5 L759.7 449.0 L759.9 450.5 L760.1 452.0 L760.3 453.4 L760.5 454.9 L760.7 456.4 L760.9 457.9 L761.1 459.4 L761.3 460.9 L761.5 462.4 L761.8 463.8 L762.0 465.3 L762.3 466.8 L762.6 468.4 L762.9 469.9 L763.3 471.5 L763.7 473.0 L764.1 474.5 L764.5 476.0 L765.0 477.5 L765.6 479.2 L766.3 480.9 L766.9 481.7 L767.7 480.3 L768.3 478.0 L768.6 476.5 L768.8 474.9 L769.0 473.3 L769.2 471.7 L769.4 470.1 L769.5 468.5 L769.7 466.9 L769.8 465.3 L769.9 463.8 L770.1 462.3 L770.2 460.7 L770.3 459.2 L770.4 457.7 L770.5 456.2 L770.6 454.7 L770.7 453.1 L770.8 451.6 L770.9 450.1 L771.0 448.6 L771.1 447.1 L771.2 445.5 L771.3 444.0 L771.4 442.5 L771.5 441.0 L771.6 439.4 L771.6 437.9 L771.7 436.4 L771.8 434.9 L771.8 433.4 L771.9 431.9 L772.0 430.4 L772.0 428.9 L772.1 427.4 L772.2 425.9 L772.2 424.4 L772.3 422.9 M773.2 423.0 L773.2 424.5 L773.3 426.0 L773.4 427.5 L773.5 429.0 L773.5 430.5 L773.6 432.0 L773.7 433.6 L773.8 435.2 L773.9 436.8 L773.9 438.4 L774.0 440.0 L774.1 441.6 L774.3 443.2 L774.4 444.8 L774.5 446.4 L774.6 448.0 L774.7 449.5 L774.8 451.0 L775.0 452.5 L775.1 454.0 L775.2 455.5 L775.4 457.0 L775.5 458.5 L775.7 460.0 L775.8 461.5 L776.0 463.0 L776.2 464.5 L776.4 466.0 L776.5 467.5 L776.7 469.0 L776.9 470.5 L777.1 472.0 L777.3 473.5 L777.5 475.0 L777.7 476.6 L778.0 478.2 L778.2 479.8 L778.4 481.4 L778.7 483.0 L779.0 484.6 L779.3 486.2 L779.6 487.7 L779.9 489.3 L780.3 490.9 L780.6 492.5 L781.0 494.0 L781.5 495.8 L782.0 497.9 L782.6 499.8 L783.2 501.2 L783.8 501.8 L784.5 500.9 L785.2 499.0 L785.6 497.0 L785.8 495.4 L786.0 493.9 L786.1 492.3 L786.3 490.7 L786.4 489.1 L786.5 487.5 L786.6 485.8 L786.7 484.2 L786.8 482.6 L786.9 481.0 L787.0 479.4 L787.2 477.8 L787.3 476.1 L787.5 474.5 L787.6 472.9 L787.8 471.3 L787.9 469.6 L788.0 468.0 L788.1 466.5 L788.2 464.9 M789.1 465.2 L789.2 466.8 L789.3 468.4 L789.4 470.0 L789.5 471.6 L789.7 473.2 L789.8 474.9 L789.9 476.5 L790.1 478.1 L790.3 479.7 L790.4 481.4 L790.6 483.0 L790.8 484.6 L791.0 486.1 L791.2 487.6 L791.3 489.1 L791.5 490.6 L791.7 492.1 L792.0 493.5 L792.2 495.0 L792.4 496.5 L792.6 498.0 L792.8 499.5 L793.1 501.0 L793.3 502.5 L793.6 504.0 L793.8 505.4 L794.1 506.9 L794.4 508.4 L794.6 509.9 L794.9 511.4 L795.2 512.8 L795.5 514.3 L795.8 515.8 L796.1 517.3 L796.4 518.8 L796.7 520.2 L797.1 521.7 L797.5 523.1 L798.0 524.5 L798.9 526.4 L799.8 527.5 L800.4 526.7 L800.9 524.8 L801.3 523.0 L801.5 521.4 L801.8 519.8 L801.9 518.2 L802.1 516.5 L802.2 514.9 L802.3 513.3 L802.5 511.6 L802.6 510.0 L802.7 508.4 L802.9 506.7 L803.0 505.1 L803.2 503.5 L803.3 501.8 L803.4 500.2 L803.5 501.7 L803.6 503.3 L803.7 504.8 L803.8 506.4 L804.0 507.9 L804.1 509.5 L804.3 511.0 L804.5 512.6 L804.7 514.2 L804.9 515.8 L805.1 517.4 L805.4 519.0 L805.7 520.5 L805.9 522.1 L806.2 523.7 L806.5 525.3 L806.8 526.8 L807.0 528.3 L807.3 529.8 L807.6 531.3 L807.9 532.7 L808.2 534.2 L808.5 535.7 L808.8 537.2 L809.2 538.7 L809.5 540.1 L809.9 541.6 L810.2 543.1 L810.6 544.5 L811.0 546.0 L811.4 547.6 L811.8 549.4 L812.3 551.0 L812.9 552.5 L813.6 553.8 L814.2 554.3 L814.8 554.6 L815.3 553.8 L815.6 551.9 L815.8 550.0 L816.0 548.3 L816.2 546.5 L816.4 544.8 L816.6 543.0 L816.8 541.5 L816.9 539.9 L817.1 538.4 L817.2 539.9 L817.3 541.4 L817.5 543.0 L817.6 544.5 L817.8 546.0 L818.0 547.6 L818.2 549.2 L818.4 550.7 L818.7 552.3 L818.9 553.9 L819.2 555.4 L819.5 557.0 L819.8 558.6 L820.2 560.1 L820.5 561.7 L820.9 563.2 L821.3 564.8 L821.7 566.3 L822.2 567.9 L822.7 569.4 L823.2 570.9 L823.7 572.5 L824.2 574.0 " stroke="#0000ff" stroke-width="1.9" stroke-linecap="butt"/>
<path d="M335.2 231.1 L335.7 229.6 L335.7 207.5 L335.7 229.6 L336.2 231.1" stroke="#0000ff" stroke-width="1.45"/>
<path d="M462.1 355.8 L462.6 354.3 L462.6 339.0 L462.6 354.3 L463.0 355.8" stroke="#0000ff" stroke-width="1.45"/>
<path d="M536.1 449.5 L536.6 448.0 L536.6 431.6 L536.6 448.0 L537.0 448.0" stroke="#0000ff" stroke-width="1.45"/>
<path d="M588.9 512.5 L589.2 511.0 L589.2 502.0 L589.2 511.0 L589.6 512.5" stroke="#0000ff" stroke-width="1.45"/>
<path d="M629.9 562.5 L630.2 561.8 L630.2 556.4 L630.2 561.8 L630.6 563.3" stroke="#0000ff" stroke-width="1.45"/>
<path d="M734.8 340.2 L735.3 339.5 L735.3 226.0 L735.3 339.5 L735.8 341.0" stroke="#0000ff" stroke-width="1.45"/>
<path d="M754.5 383.4 L755.0 381.9 L755.0 358.3 L755.0 381.9 L755.5 383.4" stroke="#0000ff" stroke-width="1.45"/>
<path d="M772.3 422.9 L772.7 421.5 L772.7 409.4 L772.7 421.5 L773.2 423.0" stroke="#0000ff" stroke-width="1.45"/>
<path d="M788.2 464.9 L788.6 463.7 L788.6 457.2 L788.6 463.7 L789.1 465.2" stroke="#0000ff" stroke-width="1.45"/>
</g>
<path d="M68.10 51.95 H77.10 M68.30 35.89 L73.47 33.29" stroke="#000" stroke-width="1.3" fill="none"/><path d="M73.07 32.69 V52.30" stroke="#000" stroke-width="1.9" fill="none"/>
<text transform="translate(80.92,52.68) scale(1.125,1.007)" font-family="Liberation Sans, sans-serif" font-size="27.95" fill="#000" stroke="#fff" stroke-width="0.15" vector-effect="non-scaling-stroke">0</text>
<text transform="translate(83.02,138.38) scale(0.990,1.007)" font-family="Liberation Sans, sans-serif" font-size="27.95" fill="#000" stroke="#fff" stroke-width="0.15" vector-effect="non-scaling-stroke">5</text>
<path d="M86.50 338.35 H95.40 M86.70 322.29 L91.81 319.69" stroke="#000" stroke-width="1.3" fill="none"/><path d="M91.41 319.09 V338.70" stroke="#000" stroke-width="1.9" fill="none"/>
<text transform="translate(56.32,425.07) scale(1.080,1.007)" font-family="Liberation Sans, sans-serif" font-size="27.95" fill="#000" stroke="#fff" stroke-width="0.15" vector-effect="non-scaling-stroke">0</text>
<circle cx="77.20" cy="423.25" r="1.75" fill="#000"/>
<text transform="translate(83.02,425.07) scale(0.970,1.007)" font-family="Liberation Sans, sans-serif" font-size="27.95" fill="#000" stroke="#fff" stroke-width="0.15" vector-effect="non-scaling-stroke">5</text>
<text transform="translate(56.32,624.98) scale(1.080,1.007)" font-family="Liberation Sans, sans-serif" font-size="27.95" fill="#000" stroke="#fff" stroke-width="0.15" vector-effect="non-scaling-stroke">0</text>
<circle cx="77.20" cy="623.15" r="1.75" fill="#000"/>
<path d="M86.50 624.25 H95.40 M86.70 608.19 L91.81 605.59" stroke="#000" stroke-width="1.3" fill="none"/><path d="M91.41 604.99 V624.60" stroke="#000" stroke-width="1.9" fill="none"/>
<text transform="translate(38.22,711.28) scale(1.080,1.007)" font-family="Liberation Sans, sans-serif" font-size="27.95" fill="#000" stroke="#fff" stroke-width="0.15" vector-effect="non-scaling-stroke">0</text>
<circle cx="59.20" cy="709.45" r="1.75" fill="#000"/>
<text transform="translate(65.72,711.28) scale(1.080,1.007)" font-family="Liberation Sans, sans-serif" font-size="27.95" fill="#000" stroke="#fff" stroke-width="0.15" vector-effect="non-scaling-stroke">0</text>
<text transform="translate(83.52,711.28) scale(0.938,1.007)" font-family="Liberation Sans, sans-serif" font-size="27.95" fill="#000" stroke="#fff" stroke-width="0.15" vector-effect="non-scaling-stroke">5</text>
<text transform="translate(188.23,764.38) scale(1.073,1.007)" font-family="Liberation Sans, sans-serif" font-size="27.95" fill="#000" stroke="#fff" stroke-width="0.15" vector-effect="non-scaling-stroke">0</text>
<circle cx="209.60" cy="762.55" r="1.75" fill="#000"/>
<text transform="translate(214.83,764.38) scale(0.983,1.007)" font-family="Liberation Sans, sans-serif" font-size="27.95" fill="#000" stroke="#fff" stroke-width="0.15" vector-effect="non-scaling-stroke">5</text>
<path d="M331.50 763.65 H340.70 M331.70 747.59 L336.98 744.99" stroke="#000" stroke-width="1.3" fill="none"/><path d="M336.58 744.39 V764.00" stroke="#000" stroke-width="1.9" fill="none"/>
<text transform="translate(622.62,764.38) scale(0.938,1.007)" font-family="Liberation Sans, sans-serif" font-size="27.95" fill="#000" stroke="#fff" stroke-width="0.15" vector-effect="non-scaling-stroke">5</text>
<path d="M743.30 763.65 H752.30 M743.50 747.59 L748.67 744.99" stroke="#000" stroke-width="1.3" fill="none"/><path d="M748.27 744.39 V764.00" stroke="#000" stroke-width="1.9" fill="none"/>
<text transform="translate(755.92,764.38) scale(1.106,1.007)" font-family="Liberation Sans, sans-serif" font-size="27.95" fill="#000" stroke="#fff" stroke-width="0.15" vector-effect="non-scaling-stroke">0</text>
<text transform="translate(136.23,85.80) scale(0.751,1)" font-family="Liberation Serif, serif" font-size="29.60" fill="#ff0000" font-style="italic" stroke="#ff0000" stroke-width="0.45" vector-effect="non-scaling-stroke" stroke-linejoin="round">M</text>
<text transform="translate(180.40,85.80) scale(1.121,1)" font-family="Liberation Serif, serif" font-size="29.60" fill="#ff0000" font-style="italic">m</text>
<path d="M236.80 85.25 H245.70 M237.00 69.19 L242.12 66.59" stroke="#ff0000" stroke-width="1.3" fill="none"/><path d="M241.72 65.99 V85.60" stroke="#ff0000" stroke-width="1.9" fill="none"/>
<text transform="translate(249.83,85.98) scale(1.035,1.007)" font-family="Liberation Sans, sans-serif" font-size="27.95" fill="#ff0000" stroke="#fff" stroke-width="0.15" vector-effect="non-scaling-stroke">8</text>
<text transform="translate(269.73,85.98) scale(1.035,1.007)" font-family="Liberation Sans, sans-serif" font-size="27.95" fill="#ff0000" stroke="#fff" stroke-width="0.15" vector-effect="non-scaling-stroke">3</text>
<text transform="translate(289.53,85.98) scale(1.035,1.007)" font-family="Liberation Sans, sans-serif" font-size="27.95" fill="#ff0000" stroke="#fff" stroke-width="0.15" vector-effect="non-scaling-stroke">6</text>
<circle cx="310.90" cy="84.15" r="1.75" fill="#ff0000"/>
<path d="M317.70 85.25 H326.50 M317.90 69.19 L322.96 66.59" stroke="#ff0000" stroke-width="1.3" fill="none"/><path d="M322.56 65.99 V85.60" stroke="#ff0000" stroke-width="1.9" fill="none"/>
<text transform="translate(165.25,254.40) scale(0.778,1)" font-family="Liberation Serif, serif" font-size="29.60" fill="#0000ff" font-style="italic" stroke="#0000ff" stroke-width="0.45" vector-effect="non-scaling-stroke" stroke-linejoin="round">M</text>
<text transform="translate(208.40,254.40) scale(1.150,1)" font-family="Liberation Serif, serif" font-size="29.60" fill="#0000ff" font-style="italic">m</text>
<text transform="translate(263.23,254.57) scale(0.983,1.007)" font-family="Liberation Sans, sans-serif" font-size="27.95" fill="#0000ff" stroke="#fff" stroke-width="0.15" vector-effect="non-scaling-stroke">8</text>
<circle cx="284.40" cy="252.75" r="1.75" fill="#0000ff"/>
<text transform="translate(289.73,254.57) scale(1.061,1.007)" font-family="Liberation Sans, sans-serif" font-size="27.95" fill="#0000ff" stroke="#fff" stroke-width="0.15" vector-effect="non-scaling-stroke">8</text>
<text transform="translate(307.82,254.57) scale(0.938,1.007)" font-family="Liberation Sans, sans-serif" font-size="27.95" fill="#0000ff" stroke="#fff" stroke-width="0.15" vector-effect="non-scaling-stroke">8</text>
<text transform="translate(232.00,500.90) scale(1.018,1)" font-family="Liberation Serif, serif" font-size="30.20" fill="#06784a" stroke="#06784a" stroke-width="0.45" vector-effect="non-scaling-stroke" stroke-linejoin="round">f</text>
<text transform="translate(245.00,500.90) scale(0.840,1)" font-family="Liberation Serif, serif" font-size="30.20" fill="#06784a" stroke="#06784a" stroke-width="0.45" vector-effect="non-scaling-stroke" stroke-linejoin="round">i</text>
<text transform="translate(253.40,500.90) scale(0.881,1)" font-family="Liberation Serif, serif" font-size="30.20" fill="#06784a" stroke="#06784a" stroke-width="0.45" vector-effect="non-scaling-stroke" stroke-linejoin="round">x</text>
<text transform="translate(271.10,500.90) scale(1.005,1)" font-family="Liberation Serif, serif" font-size="30.20" fill="#06784a" stroke="#06784a" stroke-width="0.45" vector-effect="non-scaling-stroke" stroke-linejoin="round">e</text>
<text transform="translate(287.90,500.90) scale(1.060,1)" font-family="Liberation Serif, serif" font-size="30.20" fill="#06784a" stroke="#06784a" stroke-width="0.45" vector-effect="non-scaling-stroke" stroke-linejoin="round">d</text>
<text transform="translate(628.40,91.20) scale(1.074,1)" font-family="Liberation Serif, serif" font-size="29.60" fill="#000" font-style="italic" stroke="#000" stroke-width="0.3" vector-effect="non-scaling-stroke" stroke-linejoin="round">ħ</text>
<text transform="translate(701.10,91.20) scale(0.828,1)" font-family="Liberation Serif, serif" font-size="29.60" fill="#000" font-style="italic" stroke="#000" stroke-width="0.3" vector-effect="non-scaling-stroke" stroke-linejoin="round">T</text>
<text transform="translate(651.20,91.30) scale(0.766,1)" font-family="Liberation Serif, serif" font-size="29.60" fill="#000" stroke="#000" stroke-width="0.3" vector-effect="non-scaling-stroke" stroke-linejoin="round">Ω</text>
<text transform="translate(742.62,91.48) scale(0.964,1.007)" font-family="Liberation Sans, sans-serif" font-size="27.95" fill="#000" stroke="#fff" stroke-width="0.15" vector-effect="non-scaling-stroke">5</text>
<text transform="translate(670.70,99.20) scale(0.979,1)" font-family="Liberation Serif, serif" font-size="22.50" fill="#000" font-weight="bold">c</text>
<text transform="translate(435.20,803.00) scale(0.920,1)" font-family="Liberation Serif, serif" font-size="29.80" fill="#000" stroke="#000" stroke-width="0.3" vector-effect="non-scaling-stroke" stroke-linejoin="round">ω</text>
<text transform="translate(475.70,803.00) scale(0.696,1)" font-family="Liberation Serif, serif" font-size="32.00" fill="#000" stroke="#000" stroke-width="0.3" vector-effect="non-scaling-stroke" stroke-linejoin="round">Ω</text>
<text transform="translate(494.90,810.80) scale(1.039,1)" font-family="Liberation Serif, serif" font-size="22.50" fill="#000" font-weight="bold">c</text>
<line x1="162.4" y1="91.6" x2="178.3" y2="64.8" stroke="#ff0000" stroke-width="1.5"/>
<line x1="191.9" y1="259.0" x2="206.5" y2="232.8" stroke="#0000ff" stroke-width="1.5"/>
<line x1="683.4" y1="96.0" x2="699.3" y2="69.0" stroke="#000" stroke-width="1.5"/>
<line x1="456.8" y1="808.2" x2="472.1" y2="780.5" stroke="#000" stroke-width="1.5"/>
<path d="M211.6 74.5 H229.0 M211.6 79.8 H229.0" stroke="#ff0000" stroke-width="1.4" fill="none"/>
<path d="M241.8 243.3 H258.3 M241.8 249.2 H258.3" stroke="#0000ff" stroke-width="1.6" fill="none"/>
<path d="M721.9 81.0 H737.8 M721.9 85.5 H737.8" stroke="#000" stroke-width="1.4" fill="none"/>
<g stroke="#000" fill="none" stroke-linecap="butt">
<path d="M27.0 390.4 L3.9 382.0" stroke-width="1.3"/>
<path d="M3.9 381.7 L27.0 374.9" stroke-width="2.3"/>
<path d="M27.2 392.8 V387.6 M27.2 379.0 V372.2" stroke-width="1.2"/>
<path d="M24.6 363.1 H37.9 M37.3 357.9 V369.1" stroke-width="1.5"/>
</g>
</svg>
</body></html>
